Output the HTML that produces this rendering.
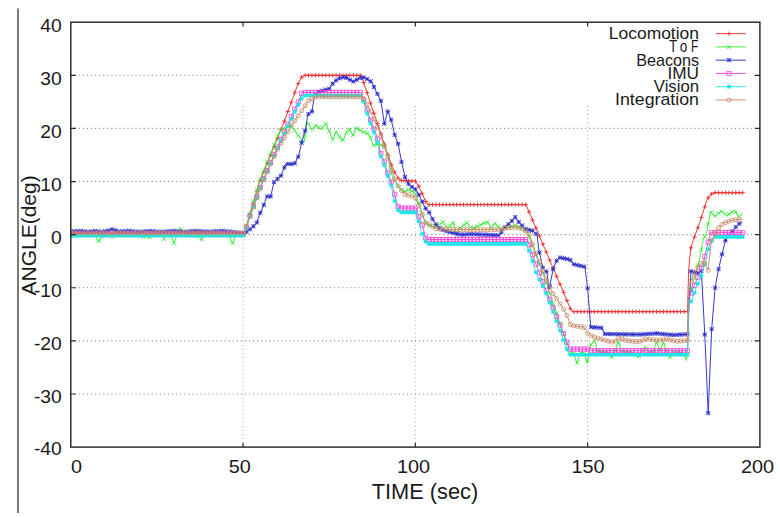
<!DOCTYPE html>
<html><head><meta charset="utf-8"><title>chart</title>
<style>
html,body{margin:0;padding:0;background:#fff;}
body{width:780px;height:517px;overflow:hidden;position:relative;font-family:"Liberation Sans",sans-serif;}
svg{position:absolute;left:0;top:0;display:block;}
text{font-family:"Liberation Sans",sans-serif;fill:#1a1a1a;}
</style></head><body>
<svg width="780" height="517" viewBox="0 0 780 517">
<rect x="0" y="0" width="780" height="517" fill="#ffffff"/>
<line x1="18.0" y1="8.6" x2="18.0" y2="513" stroke="#222" stroke-width="1.2"/>
<path d="M243.07 443.1V106.0M415.35 443.1V106.0M587.62 443.1V106.0" fill="none" stroke="#a4a4a4" stroke-width="1" stroke-dasharray="1 3.05"/>
<path d="M74.8 75.31H238.5M74.8 128.42H759.9M74.8 181.54H759.9M74.8 234.65H759.9M74.8 287.76H759.9M74.8 340.88H759.9M74.8 393.99H759.9" fill="none" stroke="#8c8c8c" stroke-width="1.1" stroke-dasharray="1.1 2.95"/>
<defs><clipPath id="cp"><rect x="70.8" y="22.2" width="689.1" height="424.9"/></clipPath><filter id="bl" x="-2%" y="-2%" width="104%" height="104%"><feGaussianBlur stdDeviation="0.45"/></filter></defs>
<g clip-path="url(#cp)"><g filter="url(#bl)">
<path d="M70.80 233.06L244.45 233.06L249.28 216.59L259.61 181.80L272.36 150.73L284.42 120.99L297.86 84.34L301.30 77.44L304.40 75.31L361.26 75.31L392.27 167.73L398.12 178.35L401.57 180.48L415.69 181.27L419.14 186.85L426.03 202.25L428.79 204.64L525.95 204.64L563.85 293.07L570.74 309.54L572.46 311.66L687.54 311.66L688.58 271.30L690.65 248.99L693.40 239.70L697.54 228.81L707.53 198.53L711.32 194.02L714.42 192.69L742.67 192.69" fill="none" stroke="#f03232" stroke-width="0.95" stroke-linejoin="round"/>
<path d="M68.70 233.06H72.90M70.8 230.96V235.16M72.15 233.06H76.35M74.25 230.96V235.16M75.59 233.06H79.79M77.69 230.96V235.16M79.04 233.06H83.24M81.14 230.96V235.16M82.48 233.06H86.68M84.58 230.96V235.16M85.93 233.06H90.13M88.03 230.96V235.16M89.37 233.06H93.57M91.47 230.96V235.16M92.82 233.06H97.02M94.92 230.96V235.16M96.26 233.06H100.46M98.36 230.96V235.16M99.71 233.06H103.91M101.81 230.96V235.16M103.16 233.06H107.36M105.26 230.96V235.16M106.60 233.06H110.80M108.7 230.96V235.16M110.05 233.06H114.25M112.15 230.96V235.16M113.49 233.06H117.69M115.59 230.96V235.16M116.94 233.06H121.14M119.04 230.96V235.16M120.38 233.06H124.58M122.48 230.96V235.16M123.83 233.06H128.03M125.93 230.96V235.16M127.27 233.06H131.47M129.37 230.96V235.16M130.72 233.06H134.92M132.82 230.96V235.16M134.16 233.06H138.36M136.26 230.96V235.16M137.61 233.06H141.81M139.71 230.96V235.16M141.06 233.06H145.26M143.16 230.96V235.16M144.50 233.06H148.70M146.6 230.96V235.16M147.95 233.06H152.15M150.05 230.96V235.16M151.39 233.06H155.59M153.49 230.96V235.16M154.84 233.06H159.04M156.94 230.96V235.16M158.28 233.06H162.48M160.38 230.96V235.16M161.73 233.06H165.93M163.83 230.96V235.16M165.17 233.06H169.37M167.27 230.96V235.16M168.62 233.06H172.82M170.72 230.96V235.16M172.06 233.06H176.26M174.16 230.96V235.16M175.51 233.06H179.71M177.61 230.96V235.16M178.96 233.06H183.16M181.06 230.96V235.16M182.40 233.06H186.60M184.5 230.96V235.16M185.85 233.06H190.05M187.95 230.96V235.16M189.29 233.06H193.49M191.39 230.96V235.16M192.74 233.06H196.94M194.84 230.96V235.16M196.18 233.06H200.38M198.28 230.96V235.16M199.63 233.06H203.83M201.73 230.96V235.16M203.07 233.06H207.27M205.17 230.96V235.16M206.52 233.06H210.72M208.62 230.96V235.16M209.97 233.06H214.17M212.07 230.96V235.16M213.41 233.06H217.61M215.51 230.96V235.16M216.86 233.06H221.06M218.96 230.96V235.16M220.30 233.06H224.50M222.4 230.96V235.16M223.75 233.06H227.95M225.85 230.96V235.16M227.19 233.06H231.39M229.29 230.96V235.16M230.64 233.06H234.84M232.74 230.96V235.16M234.08 233.06H238.28M236.18 230.96V235.16M237.53 233.06H241.73M239.63 230.96V235.16M240.98 233.06H245.18M243.08 230.96V235.16M244.42 226.0H248.62M246.52 223.90V228.10M247.87 214.27H252.07M249.97 212.17V216.37M251.31 202.68H255.51M253.41 200.58V204.78M254.76 191.08H258.96M256.86 188.98V193.18M258.20 180.12H262.40M260.3 178.02V182.22M261.65 171.73H265.85M263.75 169.63V173.83M265.09 163.33H269.29M267.19 161.23V165.43M268.54 154.93H272.74M270.64 152.83V157.03M271.98 146.48H276.18M274.08 144.38V148.58M275.43 137.99H279.63M277.53 135.89V140.09M278.88 129.49H283.08M280.98 127.39V131.59M282.32 120.99H286.52M284.42 118.89V123.09M285.77 111.59H289.97M287.87 109.49V113.69M289.21 102.2H293.41M291.31 100.10V104.30M292.66 92.8H296.86M294.76 90.70V94.90M296.10 83.65H300.30M298.2 81.55V85.75M299.55 77.2H303.75M301.65 75.10V79.30M302.99 75.31H307.19M305.09 73.21V77.41M306.44 75.31H310.64M308.54 73.21V77.41M309.88 75.31H314.08M311.98 73.21V77.41M313.33 75.31H317.53M315.43 73.21V77.41M316.78 75.31H320.98M318.88 73.21V77.41M320.22 75.31H324.42M322.32 73.21V77.41M323.67 75.31H327.87M325.77 73.21V77.41M327.11 75.31H331.31M329.21 73.21V77.41M330.56 75.31H334.76M332.66 73.21V77.41M334.00 75.31H338.20M336.1 73.21V77.41M337.45 75.31H341.65M339.55 73.21V77.41M340.89 75.31H345.09M342.99 73.21V77.41M344.34 75.31H348.54M346.44 73.21V77.41M347.79 75.31H351.99M349.89 73.21V77.41M351.23 75.31H355.43M353.33 73.21V77.41M354.68 75.31H358.88M356.78 73.21V77.41M358.12 75.31H362.32M360.22 73.21V77.41M361.57 82.5H365.77M363.67 80.40V84.60M365.01 92.77H369.21M367.11 90.67V94.87M368.46 103.04H372.66M370.56 100.94V105.14M371.90 113.31H376.10M374.0 111.21V115.41M375.35 123.57H379.55M377.45 121.47V125.67M378.80 133.84H383.00M380.9 131.74V135.94M382.24 144.11H386.44M384.34 142.01V146.21M385.69 154.38H389.89M387.79 152.28V156.48M389.13 164.65H393.33M391.23 162.55V166.75M392.58 172.1H396.78M394.68 170.00V174.20M396.02 178.35H400.22M398.12 176.25V180.45M399.47 180.48H403.67M401.57 178.38V182.58M402.91 180.67H407.11M405.01 178.57V182.77M406.36 180.86H410.56M408.46 178.76V182.96M409.80 181.06H414.00M411.9 178.96V183.16M413.25 181.25H417.45M415.35 179.15V183.35M416.70 186.29H420.90M418.8 184.19V188.39M420.14 193.78H424.34M422.24 191.68V195.88M423.59 201.48H427.79M425.69 199.38V203.58M427.03 204.64H431.23M429.13 202.54V206.74M430.48 204.64H434.68M432.58 202.54V206.74M433.92 204.64H438.12M436.02 202.54V206.74M437.37 204.64H441.57M439.47 202.54V206.74M440.81 204.64H445.01M442.91 202.54V206.74M444.26 204.64H448.46M446.36 202.54V206.74M447.70 204.64H451.90M449.8 202.54V206.74M451.15 204.64H455.35M453.25 202.54V206.74M454.60 204.64H458.80M456.7 202.54V206.74M458.04 204.64H462.24M460.14 202.54V206.74M461.49 204.64H465.69M463.59 202.54V206.74M464.93 204.64H469.13M467.03 202.54V206.74M468.38 204.64H472.58M470.48 202.54V206.74M471.82 204.64H476.02M473.92 202.54V206.74M475.27 204.64H479.47M477.37 202.54V206.74M478.71 204.64H482.91M480.81 202.54V206.74M482.16 204.64H486.36M484.26 202.54V206.74M485.61 204.64H489.81M487.71 202.54V206.74M489.05 204.64H493.25M491.15 202.54V206.74M492.50 204.64H496.70M494.6 202.54V206.74M495.94 204.64H500.14M498.04 202.54V206.74M499.39 204.64H503.59M501.49 202.54V206.74M502.83 204.64H507.03M504.93 202.54V206.74M506.28 204.64H510.48M508.38 202.54V206.74M509.72 204.64H513.92M511.82 202.54V206.74M513.17 204.64H517.37M515.27 202.54V206.74M516.62 204.64H520.82M518.72 202.54V206.74M520.06 204.64H524.26M522.16 202.54V206.74M523.51 204.64H527.71M525.61 202.54V206.74M526.95 211.88H531.15M529.05 209.78V213.98M530.40 219.92H534.60M532.5 217.82V222.02M533.84 227.96H538.04M535.94 225.86V230.06M537.29 235.99H541.49M539.39 233.89V238.09M540.73 244.03H544.93M542.83 241.93V246.13M544.18 252.07H548.38M546.28 249.97V254.17M547.62 260.11H551.82M549.72 258.01V262.21M551.07 268.15H555.27M553.17 266.05V270.25M554.52 276.19H558.72M556.62 274.09V278.29M557.96 284.23H562.16M560.06 282.13V286.33M561.41 292.27H565.61M563.51 290.17V294.37M564.85 300.48H569.05M566.95 298.38V302.58M568.30 308.72H572.50M570.4 306.62V310.82M571.74 311.66H575.94M573.84 309.56V313.76M575.19 311.66H579.39M577.29 309.56V313.76M578.63 311.66H582.83M580.73 309.56V313.76M582.08 311.66H586.28M584.18 309.56V313.76M585.52 311.66H589.72M587.62 309.56V313.76M588.97 311.66H593.17M591.07 309.56V313.76M592.42 311.66H596.62M594.52 309.56V313.76M595.86 311.66H600.06M597.96 309.56V313.76M599.31 311.66H603.51M601.41 309.56V313.76M602.75 311.66H606.95M604.85 309.56V313.76M606.20 311.66H610.40M608.3 309.56V313.76M609.64 311.66H613.84M611.74 309.56V313.76M613.09 311.66H617.29M615.19 309.56V313.76M616.53 311.66H620.73M618.63 309.56V313.76M619.98 311.66H624.18M622.08 309.56V313.76M623.43 311.66H627.63M625.53 309.56V313.76M626.87 311.66H631.07M628.97 309.56V313.76M630.32 311.66H634.52M632.42 309.56V313.76M633.76 311.66H637.96M635.86 309.56V313.76M637.21 311.66H641.41M639.31 309.56V313.76M640.65 311.66H644.85M642.75 309.56V313.76M644.10 311.66H648.30M646.2 309.56V313.76M647.54 311.66H651.74M649.64 309.56V313.76M650.99 311.66H655.19M653.09 309.56V313.76M654.44 311.66H658.64M656.54 309.56V313.76M657.88 311.66H662.08M659.98 309.56V313.76M661.33 311.66H665.53M663.43 309.56V313.76M664.77 311.66H668.97M666.87 309.56V313.76M668.22 311.66H672.42M670.32 309.56V313.76M671.66 311.66H675.86M673.76 309.56V313.76M675.11 311.66H679.31M677.21 309.56V313.76M678.55 311.66H682.75M680.65 309.56V313.76M682.00 311.66H686.20M684.1 309.56V313.76M685.44 311.66H689.64M687.54 309.56V313.76M688.89 247.83H693.09M690.99 245.73V249.93M692.34 236.97H696.54M694.44 234.87V239.07M695.78 227.76H699.98M697.88 225.66V229.86M699.23 217.32H703.43M701.33 215.22V219.42M702.67 206.88H706.87M704.77 204.78V208.98M706.12 197.71H710.32M708.22 195.61V199.81M709.56 193.87H713.76M711.66 191.77V195.97M713.01 192.69H717.21M715.11 190.59V194.79M716.45 192.69H720.65M718.55 190.59V194.79M719.90 192.69H724.10M722.0 190.59V194.79M723.34 192.69H727.54M725.44 190.59V194.79M726.79 192.69H730.99M728.89 190.59V194.79M730.24 192.69H734.44M732.34 190.59V194.79M733.68 192.69H737.88M735.78 190.59V194.79M737.13 192.69H741.33M739.23 190.59V194.79M740.57 192.69H744.77M742.67 190.59V194.79" fill="none" stroke="#f03232" stroke-width="1.0"/>
<path d="M70.80 234.65L77.69 235.71L84.58 234.12L91.47 235.18L95.61 235.71L99.05 242.09L102.50 235.18L109.39 234.65L112.84 237.31L116.28 234.12L125.93 235.18L136.26 234.65L141.09 235.18L144.53 237.84L146.60 235.71L149.01 238.37L152.46 234.65L160.38 235.18L163.83 238.90L167.27 235.18L170.72 235.71L174.16 243.15L177.27 234.12L180.37 228.01L183.81 234.12L191.39 235.18L197.94 235.18L201.38 239.96L204.83 234.65L215.51 235.18L228.95 234.65L232.39 244.00L235.84 234.65L244.45 234.65L249.28 215.53L259.61 180.48L272.36 149.14L278.56 133.74L282.01 128.96L286.14 127.36L291.66 126.30L299.24 136.92L304.06 142.23L307.16 122.05L311.99 129.49L316.46 124.71L320.60 129.49L326.11 123.64L332.66 139.58L336.45 131.61L342.31 141.17L348.85 127.89L352.99 135.86L355.74 127.89L362.63 131.61L369.18 134.27L373.31 145.42L378.83 143.83L384.00 146.48L386.06 149.67L392.27 176.23L398.12 185.79L403.64 192.16L408.46 189.50L414.66 192.16L419.14 204.38L425.34 222.97L430.85 226.15L436.02 227.21L442.91 221.90L447.74 228.28L452.91 221.90L456.70 235.39L459.80 228.28L466.69 222.43L471.51 228.81L476.68 226.68L481.16 224.56L487.36 221.90L491.15 227.75L495.29 222.97L499.76 229.34L508.38 227.21L515.27 225.62L522.16 228.28L525.95 230.40L529.05 236.77L533.53 248.46L538.35 261.21L545.25 279.80L551.45 298.39L569.71 351.50L573.50 352.56L576.94 363.71L580.39 352.56L583.83 352.56L587.28 363.18L589.00 351.50L591.07 344.59L594.52 340.34L597.96 351.50L607.95 352.56L611.40 357.87L614.84 351.50L618.29 341.94L621.74 351.50L634.83 352.56L638.27 357.87L641.72 352.03L645.16 346.72L648.61 352.03L653.09 351.50L656.53 341.94L659.98 350.44L663.43 342.47L666.87 351.50L669.97 357.87L673.42 352.03L683.07 352.56L686.51 360.53L687.54 354.15L688.58 298.39L692.71 284.04L699.60 259.08L703.05 240.49L706.84 231.99L710.63 211.01L714.42 216.59L721.31 211.01L726.82 215.53L734.75 210.22L738.54 217.12L742.33 213.94" fill="none" stroke="#34ee34" stroke-width="0.95" stroke-linejoin="round"/>
<path d="M68.70 232.55L72.90 236.75M68.70 236.75L72.90 232.55M72.15 233.08L76.35 237.28M72.15 237.28L76.35 233.08M75.59 233.61L79.79 237.81M75.59 237.81L79.79 233.61M79.04 232.82L83.24 237.02M79.04 237.02L83.24 232.82M82.48 232.02L86.68 236.22M82.48 236.22L86.68 232.02M85.93 232.55L90.13 236.75M85.93 236.75L90.13 232.55M89.37 233.08L93.57 237.28M89.37 237.28L93.57 233.08M92.82 233.52L97.02 237.72M92.82 237.72L97.02 233.52M96.26 238.71L100.46 242.91M96.26 242.91L100.46 238.71M99.71 234.46L103.91 238.66M99.71 238.66L103.91 234.46M103.16 232.87L107.36 237.07M103.16 237.07L107.36 232.87M106.60 232.60L110.80 236.80M106.60 236.80L110.80 232.60M110.05 234.67L114.25 238.87M110.05 238.87L114.25 234.67M113.49 232.66L117.69 236.86M113.49 236.86L117.69 232.66M116.94 232.32L121.14 236.52M116.94 236.52L121.14 232.32M120.38 232.70L124.58 236.90M120.38 236.90L124.58 232.70M123.83 233.08L128.03 237.28M123.83 237.28L128.03 233.08M127.27 232.90L131.47 237.10M127.27 237.10L131.47 232.90M130.72 232.73L134.92 236.93M130.72 236.93L134.92 232.73M134.16 232.55L138.36 236.75M134.16 236.75L138.36 232.55M137.61 232.93L141.81 237.13M137.61 237.13L141.81 232.93M141.06 234.67L145.26 238.87M141.06 238.87L145.26 234.67M144.50 233.61L148.70 237.81M144.50 237.81L148.70 233.61M147.95 235.15L152.15 239.35M147.95 239.35L152.15 235.15M151.39 232.62L155.59 236.82M151.39 236.82L155.59 232.62M154.84 232.85L159.04 237.05M154.84 237.05L159.04 232.85M158.28 233.08L162.48 237.28M158.28 237.28L162.48 233.08M161.73 236.80L165.93 241.00M161.73 241.00L165.93 236.80M165.17 233.08L169.37 237.28M165.17 237.28L169.37 233.08M168.62 233.61L172.82 237.81M168.62 237.81L172.82 233.61M172.06 241.05L176.26 245.25M172.06 245.25L176.26 241.05M175.51 231.34L179.71 235.54M175.51 235.54L179.71 231.34M178.96 227.13L183.16 231.33M178.96 231.33L183.16 227.13M182.40 232.12L186.60 236.32M182.40 236.32L186.60 232.12M185.85 232.60L190.05 236.80M185.85 236.80L190.05 232.60M189.29 233.08L193.49 237.28M189.29 237.28L193.49 233.08M192.74 233.08L196.94 237.28M192.74 237.28L196.94 233.08M196.18 233.56L200.38 237.76M196.18 237.76L200.38 233.56M199.63 237.33L203.83 241.53M199.63 241.53L203.83 237.33M203.07 232.57L207.27 236.77M203.07 236.77L207.27 232.57M206.52 232.74L210.72 236.94M206.52 236.94L210.72 232.74M209.97 232.91L214.17 237.11M209.97 237.11L214.17 232.91M213.41 233.08L217.61 237.28M213.41 237.28L217.61 233.08M216.86 232.94L221.06 237.14M216.86 237.14L221.06 232.94M220.30 232.81L224.50 237.01M220.30 237.01L224.50 232.81M223.75 232.67L227.95 236.87M223.75 236.87L227.95 232.67M227.19 233.48L231.39 237.68M227.19 237.68L231.39 233.48M230.64 240.96L234.84 245.16M230.64 245.16L234.84 240.96M234.08 232.55L238.28 236.75M234.08 236.75L238.28 232.55M237.53 232.55L241.73 236.75M237.53 236.75L241.73 232.55M240.98 232.55L245.18 236.75M240.98 236.75L245.18 232.55M244.42 224.36L248.62 228.56M244.42 228.56L248.62 224.36M247.87 211.09L252.07 215.29M247.87 215.29L252.07 211.09M251.31 199.41L255.51 203.61M251.31 203.61L255.51 199.41M254.76 187.72L258.96 191.92M254.76 191.92L258.96 187.72M258.20 176.68L262.40 180.88M258.20 180.88L262.40 176.68M261.65 168.21L265.85 172.41M261.65 172.41L265.85 168.21M265.09 159.74L269.29 163.94M265.09 163.94L269.29 159.74M268.54 151.27L272.74 155.47M268.54 155.47L272.74 151.27M271.98 142.76L276.18 146.96M271.98 146.96L276.18 142.76M275.43 134.20L279.63 138.40M275.43 138.40L279.63 134.20M278.88 128.29L283.08 132.49M278.88 132.49L283.08 128.29M282.32 125.93L286.52 130.13M282.32 130.13L286.52 125.93M285.77 124.93L289.97 129.13M285.77 129.13L289.97 124.93M289.21 124.27L293.41 128.47M289.21 128.47L293.41 124.27M292.66 128.55L296.86 132.75M292.66 132.75L296.86 128.55M296.10 133.37L300.30 137.57M296.10 137.57L300.30 133.37M299.55 137.48L303.75 141.68M299.55 141.68L303.75 137.48M302.99 133.41L307.19 137.61M302.99 137.61L307.19 133.41M306.44 122.08L310.64 126.28M306.44 126.28L310.64 122.08M309.88 127.39L314.08 131.59M309.88 131.59L314.08 127.39M313.33 123.71L317.53 127.91M313.33 127.91L317.53 123.71M316.78 125.40L320.98 129.60M316.78 129.60L320.98 125.40M320.22 125.56L324.42 129.76M320.22 129.76L324.42 125.56M323.67 121.91L327.87 126.11M323.67 126.11L327.87 121.91M327.11 129.09L331.31 133.29M327.11 133.29L331.31 129.09M330.56 137.48L334.76 141.68M330.56 141.68L334.76 137.48M334.00 130.24L338.20 134.44M334.00 134.44L338.20 130.24M337.45 134.57L341.65 138.77M337.45 138.77L341.65 134.57M340.89 137.67L345.09 141.87M340.89 141.87L345.09 137.67M344.34 130.69L348.54 134.89M344.34 134.89L348.54 130.69M347.79 127.79L351.99 131.99M347.79 131.99L351.99 127.79M351.23 132.76L355.43 136.96M351.23 136.96L355.43 132.76M354.68 126.35L358.88 130.55M354.68 130.55L358.88 126.35M358.12 128.21L362.32 132.41M358.12 132.41L362.32 128.21M361.57 129.93L365.77 134.13M361.57 134.13L365.77 129.93M365.01 131.33L369.21 135.53M365.01 135.53L369.21 131.33M368.46 135.89L372.66 140.09M368.46 140.09L372.66 135.89M371.90 143.12L376.10 147.32M371.90 147.32L376.10 143.12M375.35 142.13L379.55 146.33M375.35 146.33L379.55 142.13M378.80 142.79L383.00 146.99M378.80 146.99L383.00 142.79M382.24 144.91L386.44 149.11M382.24 149.11L386.44 144.91M385.69 154.95L389.89 159.15M385.69 159.15L389.89 154.95M389.13 169.70L393.33 173.90M389.13 173.90L393.33 169.70M392.58 178.06L396.78 182.26M392.58 182.26L396.78 178.06M396.02 183.69L400.22 187.89M396.02 187.89L400.22 183.69M399.47 187.67L403.67 191.87M399.47 191.87L403.67 187.67M402.91 189.30L407.11 193.50M402.91 193.50L407.11 189.30M406.36 187.40L410.56 191.60M406.36 191.60L410.56 187.40M409.80 188.88L414.00 193.08M409.80 193.08L414.00 188.88M413.25 191.94L417.45 196.14M413.25 196.14L417.45 191.94M416.70 201.34L420.90 205.54M416.70 205.54L420.90 201.34M420.14 211.57L424.34 215.77M420.14 215.77L424.34 211.57M423.59 221.06L427.79 225.26M423.59 225.26L427.79 221.06M427.03 223.06L431.23 227.26M427.03 227.26L431.23 223.06M430.48 224.41L434.68 228.61M430.48 228.61L434.68 224.41M433.92 225.11L438.12 229.31M433.92 229.31L438.12 225.11M437.37 222.46L441.57 226.66M437.37 226.66L441.57 222.46M440.81 219.80L445.01 224.00M440.81 224.00L445.01 219.80M444.26 224.36L448.46 228.56M444.26 228.56L448.46 224.36M447.70 223.63L451.90 227.83M447.70 227.83L451.90 223.63M451.15 221.03L455.35 225.23M451.15 225.23L455.35 221.03M454.60 233.29L458.80 237.49M454.60 237.49L458.80 233.29M458.04 225.88L462.24 230.08M458.04 230.08L462.24 225.88M461.49 222.96L465.69 227.16M461.49 227.16L465.69 222.96M464.93 220.79L469.13 224.99M464.93 224.99L469.13 220.79M468.38 225.34L472.58 229.54M468.38 229.54L472.58 225.34M471.82 225.72L476.02 229.92M471.82 229.92L476.02 225.72M475.27 224.26L479.47 228.46M475.27 228.46L479.47 224.26M478.71 222.62L482.91 226.82M478.71 226.82L482.91 222.62M482.16 221.13L486.36 225.33M482.16 225.33L486.36 221.13M485.61 220.33L489.81 224.53M485.61 224.53L489.81 220.33M489.05 225.65L493.25 229.85M489.05 229.85L493.25 225.65M492.50 221.66L496.70 225.86M492.50 225.86L496.70 221.66M495.94 224.79L500.14 228.99M495.94 228.99L500.14 224.79M499.39 226.81L503.59 231.01M499.39 231.01L503.59 226.81M502.83 225.96L507.03 230.16M502.83 230.16L507.03 225.96M506.28 225.11L510.48 229.31M506.28 229.31L510.48 225.11M509.72 224.32L513.92 228.52M509.72 228.52L513.92 224.32M513.17 223.52L517.37 227.72M513.17 227.72L517.37 223.52M516.62 224.85L520.82 229.05M516.62 229.05L520.82 224.85M520.06 226.18L524.26 230.38M520.06 230.38L524.26 226.18M523.51 228.11L527.71 232.31M523.51 232.31L527.71 228.11M526.95 234.67L531.15 238.87M526.95 238.87L531.15 234.67M530.40 243.66L534.60 247.86M530.40 247.86L534.60 243.66M533.84 252.73L538.04 256.93M533.84 256.93L538.04 252.73M537.29 261.89L541.49 266.09M537.29 266.09L541.49 261.89M540.73 271.19L544.93 275.39M540.73 275.39L544.93 271.19M544.18 280.79L548.38 284.99M544.18 284.99L548.38 280.79M547.62 291.12L551.82 295.32M547.62 295.32L551.82 291.12M551.07 301.30L555.27 305.50M551.07 305.50L555.27 301.30M554.52 311.32L558.72 315.52M554.52 315.52L558.72 311.32M557.96 321.34L562.16 325.54M557.96 325.54L562.16 321.34M561.41 331.36L565.61 335.56M561.41 335.56L565.61 331.36M564.85 341.38L569.05 345.58M564.85 345.58L569.05 341.38M568.30 349.59L572.50 353.79M568.30 353.79L572.50 349.59M571.74 351.58L575.94 355.78M571.74 355.78L575.94 351.58M575.19 360.50L579.39 364.70M575.19 364.70L579.39 360.50M578.63 350.46L582.83 354.66M578.63 354.66L582.83 350.46M582.08 351.52L586.28 355.72M582.08 355.72L586.28 351.52M585.52 358.75L589.72 362.95M585.52 362.95L589.72 358.75M588.97 342.49L593.17 346.69M588.97 346.69L593.17 342.49M592.42 338.24L596.62 342.44M592.42 342.44L596.62 338.24M595.86 349.40L600.06 353.60M595.86 353.60L600.06 349.40M599.31 349.76L603.51 353.96M599.31 353.96L603.51 349.76M602.75 350.13L606.95 354.33M602.75 354.33L606.95 350.13M606.20 350.99L610.40 355.19M606.20 355.19L610.40 350.99M609.64 355.13L613.84 359.33M609.64 359.33L613.84 355.13M613.09 348.44L617.29 352.64M613.09 352.64L617.29 348.44M616.53 340.79L620.73 344.99M616.53 344.99L620.73 340.79M619.98 349.43L624.18 353.63M619.98 353.63L624.18 349.43M623.43 349.70L627.63 353.90M623.43 353.90L627.63 349.70M626.87 349.98L631.07 354.18M626.87 354.18L631.07 349.98M630.32 350.26L634.52 354.46M630.32 354.46L634.52 350.26M633.76 352.05L637.96 356.25M633.76 356.25L637.96 352.05M637.21 354.02L641.41 358.22M637.21 358.22L641.41 354.02M640.65 348.34L644.85 352.54M640.65 352.54L644.85 348.34M644.10 346.21L648.30 350.41M644.10 350.41L648.30 346.21M647.54 349.81L651.74 354.01M647.54 354.01L651.74 349.81M650.99 349.40L655.19 353.60M650.99 353.60L655.19 349.40M654.44 339.84L658.64 344.04M654.44 344.04L658.64 339.84M657.88 348.34L662.08 352.54M657.88 352.54L662.08 348.34M661.33 340.37L665.53 344.57M661.33 344.57L665.53 340.37M664.77 349.40L668.97 353.60M664.77 353.60L668.97 349.40M668.22 355.19L672.42 359.39M668.22 359.39L672.42 355.19M671.66 349.95L675.86 354.15M671.66 354.15L675.86 349.95M675.11 350.14L679.31 354.34M675.11 354.34L679.31 350.14M678.55 350.33L682.75 354.53M678.55 354.53L682.75 350.33M682.00 352.85L686.20 357.05M682.00 357.05L686.20 352.85M685.44 352.05L689.64 356.25M685.44 356.25L689.64 352.05M688.89 287.92L693.09 292.12M688.89 292.12L693.09 287.92M692.34 275.70L696.54 279.90M692.34 279.90L696.54 275.70M695.78 263.22L699.98 267.42M695.78 267.42L699.98 263.22M699.23 247.69L703.43 251.89M699.23 251.89L703.43 247.69M702.67 234.53L706.87 238.73M702.67 238.73L706.87 234.53M706.12 222.27L710.32 226.47M706.12 226.47L710.32 222.27M709.56 210.44L713.76 214.64M709.56 214.64L713.76 210.44M713.01 213.93L717.21 218.13M713.01 218.13L717.21 213.93M716.45 211.15L720.65 215.35M716.45 215.35L720.65 211.15M719.90 209.48L724.10 213.68M719.90 213.68L724.10 209.48M723.34 212.30L727.54 216.50M723.34 216.50L727.54 212.30M726.79 212.04L730.99 216.24M726.79 216.24L730.99 212.04M730.24 209.73L734.44 213.93M730.24 213.93L734.44 209.73M733.68 210.00L737.88 214.20M733.68 214.20L737.88 210.00M737.13 214.44L741.33 218.64M737.13 218.64L741.33 214.44" fill="none" stroke="#34ee34" stroke-width="0.8"/>
<path d="M70.80 231.46L81.14 230.93L88.03 231.99L94.92 230.93L101.81 231.99L108.70 230.40L112.15 229.34L119.04 231.46L129.37 230.93L139.71 231.99L150.05 230.93L160.38 231.99L174.16 230.93L184.50 231.99L194.84 230.93L208.62 231.73L222.40 230.93L232.74 231.99L244.45 233.59L249.97 229.34L256.51 223.50L259.96 213.41L263.40 205.97L266.85 196.41L270.64 196.41L274.08 182.07L280.98 175.70L285.80 164.01L294.41 164.01L298.55 156.04L301.99 141.17L305.44 129.49L307.85 114.62L311.99 111.43L314.40 96.03L318.53 91.78L329.56 88.59L331.97 84.34L338.17 78.50L345.06 76.91L352.99 81.69L361.26 77.44L364.70 77.44L371.94 82.22L374.69 88.59L380.90 100.81L384.34 123.64L387.79 111.43L391.23 119.93L394.68 134.80L398.12 143.83L401.57 161.89L405.01 177.02L408.46 183.93L411.90 186.85L415.69 189.50L419.14 195.35L425.34 208.09L428.79 211.81L432.92 219.78L436.37 225.09L440.16 228.81L447.05 231.46L450.49 232.31L461.18 234.65L470.48 234.12L484.26 234.65L499.76 235.39L503.55 228.49L510.45 222.43L515.27 217.12L519.06 222.43L525.61 229.07L532.50 230.67L536.98 234.65L539.04 251.11L542.83 267.58L546.97 272.36L549.04 289.36L553.17 269.17L556.27 261.21L559.37 257.49L570.05 259.61L573.84 264.39L584.87 266.78L587.62 288.29L590.73 327.07L601.75 327.92L604.85 333.97L639.31 334.50L656.53 333.44L673.76 335.03L687.54 334.24L690.99 271.30L697.88 272.89L701.33 270.77L704.77 334.50L708.22 413.11L711.66 329.19L715.11 287.76L718.55 269.17L722.00 254.30L725.44 240.49L734.75 228.28L738.54 224.03L742.33 222.43" fill="none" stroke="#2c2ccc" stroke-width="0.95" stroke-linejoin="round"/>
<path d="M68.70 231.46H72.90M70.8 229.36V233.56M68.70 229.36L72.90 233.56M68.70 233.56L72.90 229.36M72.15 231.29H76.35M74.25 229.19V233.39M72.15 229.19L76.35 233.39M72.15 233.39L76.35 229.19M75.59 231.11H79.79M77.69 229.01V233.21M75.59 229.01L79.79 233.21M75.59 233.21L79.79 229.01M79.04 230.93H83.24M81.14 228.83V233.03M79.04 228.83L83.24 233.03M79.04 233.03L83.24 228.83M82.48 231.46H86.68M84.58 229.36V233.56M82.48 229.36L86.68 233.56M82.48 233.56L86.68 229.36M85.93 231.99H90.13M88.03 229.89V234.09M85.93 229.89L90.13 234.09M85.93 234.09L90.13 229.89M89.37 231.46H93.57M91.47 229.36V233.56M89.37 229.36L93.57 233.56M89.37 233.56L93.57 229.36M92.82 230.93H97.02M94.92 228.83V233.03M92.82 228.83L97.02 233.03M92.82 233.03L97.02 228.83M96.26 231.46H100.46M98.36 229.36V233.56M96.26 229.36L100.46 233.56M96.26 233.56L100.46 229.36M99.71 231.99H103.91M101.81 229.89V234.09M99.71 229.89L103.91 234.09M99.71 234.09L103.91 229.89M103.16 231.2H107.36M105.26 229.10V233.30M103.16 229.10L107.36 233.30M103.16 233.30L107.36 229.10M106.60 230.4H110.80M108.7 228.30V232.50M106.60 228.30L110.80 232.50M106.60 232.50L110.80 228.30M110.05 229.34H114.25M112.15 227.24V231.44M110.05 227.24L114.25 231.44M110.05 231.44L114.25 227.24M113.49 230.4H117.69M115.59 228.30V232.50M113.49 228.30L117.69 232.50M113.49 232.50L117.69 228.30M116.94 231.46H121.14M119.04 229.36V233.56M116.94 229.36L121.14 233.56M116.94 233.56L121.14 229.36M120.38 231.29H124.58M122.48 229.19V233.39M120.38 229.19L124.58 233.39M120.38 233.39L124.58 229.19M123.83 231.11H128.03M125.93 229.01V233.21M123.83 229.01L128.03 233.21M123.83 233.21L128.03 229.01M127.27 230.93H131.47M129.37 228.83V233.03M127.27 228.83L131.47 233.03M127.27 233.03L131.47 228.83M130.72 231.29H134.92M132.82 229.19V233.39M130.72 229.19L134.92 233.39M130.72 233.39L134.92 229.19M134.16 231.64H138.36M136.26 229.54V233.74M134.16 229.54L138.36 233.74M134.16 233.74L138.36 229.54M137.61 231.99H141.81M139.71 229.89V234.09M137.61 229.89L141.81 234.09M137.61 234.09L141.81 229.89M141.06 231.64H145.26M143.16 229.54V233.74M141.06 229.54L145.26 233.74M141.06 233.74L145.26 229.54M144.50 231.29H148.70M146.6 229.19V233.39M144.50 229.19L148.70 233.39M144.50 233.39L148.70 229.19M147.95 230.93H152.15M150.05 228.83V233.03M147.95 228.83L152.15 233.03M147.95 233.03L152.15 228.83M151.39 231.29H155.59M153.49 229.19V233.39M151.39 229.19L155.59 233.39M151.39 233.39L155.59 229.19M154.84 231.64H159.04M156.94 229.54V233.74M154.84 229.54L159.04 233.74M154.84 233.74L159.04 229.54M158.28 231.99H162.48M160.38 229.89V234.09M158.28 229.89L162.48 234.09M158.28 234.09L162.48 229.89M161.73 231.73H165.93M163.83 229.63V233.83M161.73 229.63L165.93 233.83M161.73 233.83L165.93 229.63M165.17 231.46H169.37M167.27 229.36V233.56M165.17 229.36L169.37 233.56M165.17 233.56L169.37 229.36M168.62 231.2H172.82M170.72 229.10V233.30M168.62 229.10L172.82 233.30M168.62 233.30L172.82 229.10M172.06 230.93H176.26M174.16 228.83V233.03M172.06 228.83L176.26 233.03M172.06 233.03L176.26 228.83M175.51 231.29H179.71M177.61 229.19V233.39M175.51 229.19L179.71 233.39M175.51 233.39L179.71 229.19M178.96 231.64H183.16M181.06 229.54V233.74M178.96 229.54L183.16 233.74M178.96 233.74L183.16 229.54M182.40 231.99H186.60M184.5 229.89V234.09M182.40 229.89L186.60 234.09M182.40 234.09L186.60 229.89M185.85 231.64H190.05M187.95 229.54V233.74M185.85 229.54L190.05 233.74M185.85 233.74L190.05 229.54M189.29 231.29H193.49M191.39 229.19V233.39M189.29 229.19L193.49 233.39M189.29 233.39L193.49 229.19M192.74 230.93H196.94M194.84 228.83V233.03M192.74 228.83L196.94 233.03M192.74 233.03L196.94 228.83M196.18 231.13H200.38M198.28 229.03V233.23M196.18 229.03L200.38 233.23M196.18 233.23L200.38 229.03M199.63 231.33H203.83M201.73 229.23V233.43M199.63 229.23L203.83 233.43M199.63 233.43L203.83 229.23M203.07 231.53H207.27M205.17 229.43V233.63M203.07 229.43L207.27 233.63M203.07 233.63L207.27 229.43M206.52 231.73H210.72M208.62 229.63V233.83M206.52 229.63L210.72 233.83M206.52 233.83L210.72 229.63M209.97 231.53H214.17M212.07 229.43V233.63M209.97 229.43L214.17 233.63M209.97 233.63L214.17 229.43M213.41 231.33H217.61M215.51 229.23V233.43M213.41 229.23L217.61 233.43M213.41 233.43L217.61 229.23M216.86 231.13H221.06M218.96 229.03V233.23M216.86 229.03L221.06 233.23M216.86 233.23L221.06 229.03M220.30 230.93H224.50M222.4 228.83V233.03M220.30 228.83L224.50 233.03M220.30 233.03L224.50 228.83M223.75 231.29H227.95M225.85 229.19V233.39M223.75 229.19L227.95 233.39M223.75 233.39L227.95 229.19M227.19 231.64H231.39M229.29 229.54V233.74M227.19 229.54L231.39 233.74M227.19 233.74L231.39 229.54M230.64 231.99H234.84M232.74 229.89V234.09M230.64 229.89L234.84 234.09M230.64 234.09L234.84 229.89M234.08 232.46H238.28M236.18 230.36V234.56M234.08 230.36L238.28 234.56M234.08 234.56L238.28 230.36M237.53 232.93H241.73M239.63 230.83V235.03M237.53 230.83L241.73 235.03M237.53 235.03L241.73 230.83M240.98 233.4H245.18M243.08 231.30V235.50M240.98 231.30L245.18 235.50M240.98 235.50L245.18 231.30M244.42 231.99H248.62M246.52 229.89V234.09M244.42 229.89L248.62 234.09M244.42 234.09L248.62 229.89M247.87 229.34H252.07M249.97 227.24V231.44M247.87 227.24L252.07 231.44M247.87 231.44L252.07 227.24M251.31 226.26H255.51M253.41 224.16V228.36M251.31 224.16L255.51 228.36M251.31 228.36L255.51 224.16M254.76 222.49H258.96M256.86 220.39V224.59M254.76 220.39L258.96 224.59M254.76 224.59L258.96 220.39M258.20 212.66H262.40M260.3 210.56V214.76M258.20 210.56L262.40 214.76M258.20 214.76L262.40 210.56M261.65 205.01H265.85M263.75 202.91V207.11M261.65 202.91L265.85 207.11M261.65 207.11L265.85 202.91M265.09 196.41H269.29M267.19 194.31V198.51M265.09 194.31L269.29 198.51M265.09 198.51L269.29 194.31M268.54 196.41H272.74M270.64 194.31V198.51M268.54 194.31L272.74 198.51M268.54 198.51L272.74 194.31M271.98 182.07H276.18M274.08 179.97V184.17M271.98 179.97L276.18 184.17M271.98 184.17L276.18 179.97M275.43 178.88H279.63M277.53 176.78V180.98M275.43 176.78L279.63 180.98M275.43 180.98L279.63 176.78M278.88 175.7H283.08M280.98 173.60V177.80M278.88 173.60L283.08 177.80M278.88 177.80L283.08 173.60M282.32 167.35H286.52M284.42 165.25V169.45M282.32 165.25L286.52 169.45M282.32 169.45L286.52 165.25M285.77 164.01H289.97M287.87 161.91V166.11M285.77 161.91L289.97 166.11M285.77 166.11L289.97 161.91M289.21 164.01H293.41M291.31 161.91V166.11M289.21 161.91L293.41 166.11M289.21 166.11L293.41 161.91M292.66 163.35H296.86M294.76 161.25V165.45M292.66 161.25L296.86 165.45M292.66 165.45L296.86 161.25M296.10 156.71H300.30M298.2 154.61V158.81M296.10 154.61L300.30 158.81M296.10 158.81L300.30 154.61M299.55 142.66H303.75M301.65 140.56V144.76M299.55 140.56L303.75 144.76M299.55 144.76L303.75 140.56M302.99 130.66H307.19M305.09 128.56V132.76M302.99 128.56L307.19 132.76M302.99 132.76L307.19 128.56M306.44 114.08H310.64M308.54 111.98V116.18M306.44 111.98L310.64 116.18M306.44 116.18L310.64 111.98M309.88 111.43H314.08M311.98 109.33V113.53M309.88 109.33L314.08 113.53M309.88 113.53L314.08 109.33M313.33 94.96H317.53M315.43 92.86V97.06M313.33 92.86L317.53 97.06M313.33 97.06L317.53 92.86M316.78 91.68H320.98M318.88 89.58V93.78M316.78 89.58L320.98 93.78M316.78 93.78L320.98 89.58M320.22 90.68H324.42M322.32 88.58V92.78M320.22 88.58L324.42 92.78M320.22 92.78L324.42 88.58M323.67 89.69H327.87M325.77 87.59V91.79M323.67 87.59L327.87 91.79M323.67 91.79L327.87 87.59M327.11 88.69H331.31M329.21 86.59V90.79M327.11 86.59L331.31 90.79M327.11 90.79L331.31 86.59M330.56 83.69H334.76M332.66 81.59V85.79M330.56 81.59L334.76 85.79M330.56 85.79L334.76 81.59M334.00 80.45H338.20M336.1 78.35V82.55M334.00 78.35L338.20 82.55M334.00 82.55L338.20 78.35M337.45 78.18H341.65M339.55 76.08V80.28M337.45 76.08L341.65 80.28M337.45 80.28L341.65 76.08M340.89 77.38H345.09M342.99 75.28V79.48M340.89 75.28L345.09 79.48M340.89 79.48L345.09 75.28M344.34 77.74H348.54M346.44 75.64V79.84M344.34 75.64L348.54 79.84M344.34 79.84L348.54 75.64M347.79 79.82H351.99M349.89 77.72V81.92M347.79 77.72L351.99 81.92M347.79 81.92L351.99 77.72M351.23 81.51H355.43M353.33 79.41V83.61M351.23 79.41L355.43 83.61M351.23 83.61L355.43 79.41M354.68 79.74H358.88M356.78 77.64V81.84M354.68 77.64L358.88 81.84M354.68 81.84L358.88 77.64M358.12 77.97H362.32M360.22 75.87V80.07M358.12 75.87L362.32 80.07M358.12 80.07L362.32 75.87M361.57 77.44H365.77M363.67 75.34V79.54M361.57 75.34L365.77 79.54M361.57 79.54L365.77 75.34M365.01 79.03H369.21M367.11 76.93V81.13M365.01 76.93L369.21 81.13M365.01 81.13L369.21 76.93M368.46 81.31H372.66M370.56 79.21V83.41M368.46 79.21L372.66 83.41M368.46 83.41L372.66 79.21M371.90 87.0H376.10M374.0 84.90V89.10M371.90 84.90L376.10 89.10M371.90 89.10L376.10 84.90M375.35 94.02H379.55M377.45 91.92V96.12M375.35 91.92L379.55 96.12M375.35 96.12L379.55 91.92M378.80 100.81H383.00M380.9 98.71V102.91M378.80 98.71L383.00 102.91M378.80 102.91L383.00 98.71M382.24 123.64H386.44M384.34 121.54V125.74M382.24 121.54L386.44 125.74M382.24 125.74L386.44 121.54M385.69 111.43H389.89M387.79 109.33V113.53M385.69 109.33L389.89 113.53M385.69 113.53L389.89 109.33M389.13 119.93H393.33M391.23 117.83V122.03M389.13 117.83L393.33 122.03M389.13 122.03L393.33 117.83M392.58 134.8H396.78M394.68 132.70V136.90M392.58 132.70L396.78 136.90M392.58 136.90L396.78 132.70M396.02 143.83H400.22M398.12 141.73V145.93M396.02 141.73L400.22 145.93M396.02 145.93L400.22 141.73M399.47 161.89H403.67M401.57 159.79V163.99M399.47 159.79L403.67 163.99M399.47 163.99L403.67 159.79M402.91 177.02H407.11M405.01 174.92V179.12M402.91 174.92L407.11 179.12M402.91 179.12L407.11 174.92M406.36 183.93H410.56M408.46 181.83V186.03M406.36 181.83L410.56 186.03M406.36 186.03L410.56 181.83M409.80 186.85H414.00M411.9 184.75V188.95M409.80 184.75L414.00 188.95M409.80 188.95L414.00 184.75M413.25 189.26H417.45M415.35 187.16V191.36M413.25 187.16L417.45 191.36M413.25 191.36L417.45 187.16M416.70 194.76H420.90M418.8 192.66V196.86M416.70 192.66L420.90 196.86M416.70 196.86L420.90 192.66M420.14 201.72H424.34M422.24 199.62V203.82M420.14 199.62L424.34 203.82M420.14 203.82L424.34 199.62M423.59 208.47H427.79M425.69 206.37V210.57M423.59 206.37L427.79 210.57M423.59 210.57L427.79 206.37M427.03 212.48H431.23M429.13 210.38V214.58M427.03 210.38L431.23 214.58M427.03 214.58L431.23 210.38M430.48 219.11H434.68M432.58 217.01V221.21M430.48 217.01L434.68 221.21M430.48 221.21L434.68 217.01M433.92 224.56H438.12M436.02 222.46V226.66M433.92 222.46L438.12 226.66M433.92 226.66L438.12 222.46M437.37 228.13H441.57M439.47 226.03V230.23M437.37 226.03L441.57 230.23M437.37 230.23L441.57 226.03M440.81 229.87H445.01M442.91 227.77V231.97M440.81 227.77L445.01 231.97M440.81 231.97L445.01 227.77M444.26 231.2H448.46M446.36 229.10V233.30M444.26 229.10L448.46 233.30M444.26 233.30L448.46 229.10M447.70 232.14H451.90M449.8 230.04V234.24M447.70 230.04L451.90 234.24M447.70 234.24L451.90 230.04M451.15 232.92H455.35M453.25 230.82V235.02M451.15 230.82L455.35 235.02M451.15 235.02L455.35 230.82M454.60 233.67H458.80M456.7 231.57V235.77M454.60 231.57L458.80 235.77M454.60 235.77L458.80 231.57M458.04 234.42H462.24M460.14 232.32V236.52M458.04 232.32L462.24 236.52M458.04 236.52L462.24 232.32M461.49 234.51H465.69M463.59 232.41V236.61M461.49 232.41L465.69 236.61M461.49 236.61L465.69 232.41M464.93 234.32H469.13M467.03 232.22V236.42M464.93 232.22L469.13 236.42M464.93 236.42L469.13 232.22M468.38 234.12H472.58M470.48 232.02V236.22M468.38 232.02L472.58 236.22M468.38 236.22L472.58 232.02M471.82 234.25H476.02M473.92 232.15V236.35M471.82 232.15L476.02 236.35M471.82 236.35L476.02 232.15M475.27 234.38H479.47M477.37 232.28V236.48M475.27 232.28L479.47 236.48M475.27 236.48L479.47 232.28M478.71 234.52H482.91M480.81 232.42V236.62M478.71 232.42L482.91 236.62M478.71 236.62L482.91 232.42M482.16 234.65H486.36M484.26 232.55V236.75M482.16 232.55L486.36 236.75M482.16 236.75L486.36 232.55M485.61 234.82H489.81M487.71 232.72V236.92M485.61 232.72L489.81 236.92M485.61 236.92L489.81 232.72M489.05 234.98H493.25M491.15 232.88V237.08M489.05 232.88L493.25 237.08M489.05 237.08L493.25 232.88M492.50 235.15H496.70M494.6 233.05V237.25M492.50 233.05L496.70 237.25M492.50 237.25L496.70 233.05M495.94 235.31H500.14M498.04 233.21V237.41M495.94 233.21L500.14 237.41M495.94 237.41L500.14 233.21M499.39 232.26H503.59M501.49 230.16V234.36M499.39 230.16L503.59 234.36M499.39 234.36L503.59 230.16M502.83 227.28H507.03M504.93 225.18V229.38M502.83 225.18L507.03 229.38M502.83 229.38L507.03 225.18M506.28 224.25H510.48M508.38 222.15V226.35M506.28 222.15L510.48 226.35M506.28 226.35L510.48 222.15M509.72 220.92H513.92M511.82 218.82V223.02M509.72 218.82L513.92 223.02M509.72 223.02L513.92 218.82M513.17 217.12H517.37M515.27 215.02V219.22M513.17 215.02L517.37 219.22M513.17 219.22L517.37 215.02M516.62 221.95H520.82M518.72 219.85V224.05M516.62 219.85L520.82 224.05M516.62 224.05L520.82 219.85M520.06 225.58H524.26M522.16 223.48V227.68M520.06 223.48L524.26 227.68M520.06 227.68L524.26 223.48M523.51 229.07H527.71M525.61 226.97V231.17M523.51 226.97L527.71 231.17M523.51 231.17L527.71 226.97M526.95 229.87H531.15M529.05 227.77V231.97M526.95 227.77L531.15 231.97M526.95 231.97L531.15 227.77M530.40 230.67H534.60M532.5 228.57V232.77M530.40 228.57L534.60 232.77M530.40 232.77L534.60 228.57M533.84 233.73H538.04M535.94 231.63V235.83M533.84 231.63L538.04 235.83M533.84 235.83L538.04 231.63M537.29 252.61H541.49M539.39 250.51V254.71M537.29 250.51L541.49 254.71M537.29 254.71L541.49 250.51M540.73 267.58H544.93M542.83 265.48V269.68M540.73 265.48L544.93 269.68M540.73 269.68L544.93 265.48M544.18 271.56H548.38M546.28 269.46V273.66M544.18 269.46L548.38 273.66M544.18 273.66L548.38 269.46M547.62 285.99H551.82M549.72 283.89V288.09M547.62 283.89L551.82 288.09M547.62 288.09L551.82 283.89M551.07 269.17H555.27M553.17 267.07V271.27M551.07 267.07L555.27 271.27M551.07 271.27L555.27 267.07M554.52 260.79H558.72M556.62 258.69V262.89M554.52 258.69L558.72 262.89M554.52 262.89L558.72 258.69M557.96 257.63H562.16M560.06 255.53V259.73M557.96 255.53L562.16 259.73M557.96 259.73L562.16 255.53M561.41 258.31H565.61M563.51 256.21V260.41M561.41 256.21L565.61 260.41M561.41 260.41L565.61 256.21M564.85 259.0H569.05M566.95 256.90V261.10M564.85 256.90L569.05 261.10M564.85 261.10L569.05 256.90M568.30 260.05H572.50M570.4 257.95V262.15M568.30 257.95L572.50 262.15M568.30 262.15L572.50 257.95M571.74 264.39H575.94M573.84 262.29V266.49M571.74 262.29L575.94 266.49M571.74 266.49L575.94 262.29M575.19 265.14H579.39M577.29 263.04V267.24M575.19 263.04L579.39 267.24M575.19 267.24L579.39 263.04M578.63 265.89H582.83M580.73 263.79V267.99M578.63 263.79L582.83 267.99M578.63 267.99L582.83 263.79M582.08 266.63H586.28M584.18 264.53V268.73M582.08 264.53L586.28 268.73M582.08 268.73L586.28 264.53M585.52 288.29H589.72M587.62 286.19V290.39M585.52 286.19L589.72 290.39M585.52 290.39L589.72 286.19M588.97 327.09H593.17M591.07 324.99V329.19M588.97 324.99L593.17 329.19M588.97 329.19L593.17 324.99M592.42 327.36H596.62M594.52 325.26V329.46M592.42 325.26L596.62 329.46M592.42 329.46L596.62 325.26M595.86 327.62H600.06M597.96 325.52V329.72M595.86 325.52L600.06 329.72M595.86 329.72L600.06 325.52M599.31 327.89H603.51M601.41 325.79V329.99M599.31 325.79L603.51 329.99M599.31 329.99L603.51 325.79M602.75 333.97H606.95M604.85 331.87V336.07M602.75 331.87L606.95 336.07M602.75 336.07L606.95 331.87M606.20 334.02H610.40M608.3 331.92V336.12M606.20 331.92L610.40 336.12M606.20 336.12L610.40 331.92M609.64 334.08H613.84M611.74 331.98V336.18M609.64 331.98L613.84 336.18M609.64 336.18L613.84 331.98M613.09 334.13H617.29M615.19 332.03V336.23M613.09 332.03L617.29 336.23M613.09 336.23L617.29 332.03M616.53 334.18H620.73M618.63 332.08V336.28M616.53 332.08L620.73 336.28M616.53 336.28L620.73 332.08M619.98 334.24H624.18M622.08 332.14V336.34M619.98 332.14L624.18 336.34M619.98 336.34L624.18 332.14M623.43 334.29H627.63M625.53 332.19V336.39M623.43 332.19L627.63 336.39M623.43 336.39L627.63 332.19M626.87 334.34H631.07M628.97 332.24V336.44M626.87 332.24L631.07 336.44M626.87 336.44L631.07 332.24M630.32 334.4H634.52M632.42 332.30V336.50M630.32 332.30L634.52 336.50M630.32 336.50L634.52 332.30M633.76 334.45H637.96M635.86 332.35V336.55M633.76 332.35L637.96 336.55M633.76 336.55L637.96 332.35M637.21 334.5H641.41M639.31 332.40V336.60M637.21 332.40L641.41 336.60M637.21 336.60L641.41 332.40M640.65 334.29H644.85M642.75 332.19V336.39M640.65 332.19L644.85 336.39M640.65 336.39L644.85 332.19M644.10 334.08H648.30M646.2 331.98V336.18M644.10 331.98L648.30 336.18M644.10 336.18L648.30 331.98M647.54 333.86H651.74M649.64 331.76V335.96M647.54 331.76L651.74 335.96M647.54 335.96L651.74 331.76M650.99 333.65H655.19M653.09 331.55V335.75M650.99 331.55L655.19 335.75M650.99 335.75L655.19 331.55M654.44 333.44H658.64M656.54 331.34V335.54M654.44 331.34L658.64 335.54M654.44 335.54L658.64 331.34M657.88 333.76H662.08M659.98 331.66V335.86M657.88 331.66L662.08 335.86M657.88 335.86L662.08 331.66M661.33 334.08H665.53M663.43 331.98V336.18M661.33 331.98L665.53 336.18M661.33 336.18L665.53 331.98M664.77 334.4H668.97M666.87 332.30V336.50M664.77 332.30L668.97 336.50M664.77 336.50L668.97 332.30M668.22 334.71H672.42M670.32 332.61V336.81M668.22 332.61L672.42 336.81M668.22 336.81L672.42 332.61M671.66 335.03H675.86M673.76 332.93V337.13M671.66 332.93L675.86 337.13M671.66 337.13L675.86 332.93M675.11 334.83H679.31M677.21 332.73V336.93M675.11 332.73L679.31 336.93M675.11 336.93L679.31 332.73M678.55 334.63H682.75M680.65 332.53V336.73M678.55 332.53L682.75 336.73M678.55 336.73L682.75 332.53M682.00 334.44H686.20M684.1 332.34V336.54M682.00 332.34L686.20 336.54M682.00 336.54L686.20 332.34M685.44 334.24H689.64M687.54 332.14V336.34M685.44 332.14L689.64 336.34M685.44 336.34L689.64 332.14M688.89 271.3H693.09M690.99 269.20V273.40M688.89 269.20L693.09 273.40M688.89 273.40L693.09 269.20M692.34 272.09H696.54M694.44 269.99V274.19M692.34 269.99L696.54 274.19M692.34 274.19L696.54 269.99M695.78 272.89H699.98M697.88 270.79V274.99M695.78 270.79L699.98 274.99M695.78 274.99L699.98 270.79M699.23 270.77H703.43M701.33 268.67V272.87M699.23 268.67L703.43 272.87M699.23 272.87L703.43 268.67M702.67 334.5H706.87M704.77 332.40V336.60M702.67 332.40L706.87 336.60M702.67 336.60L706.87 332.40M706.12 413.11H710.32M708.22 411.01V415.21M706.12 411.01L710.32 415.21M706.12 415.21L710.32 411.01M709.56 329.19H713.76M711.66 327.09V331.29M709.56 327.09L713.76 331.29M709.56 331.29L713.76 327.09M713.01 287.76H717.21M715.11 285.66V289.86M713.01 285.66L717.21 289.86M713.01 289.86L717.21 285.66M716.45 269.17H720.65M718.55 267.07V271.27M716.45 267.07L720.65 271.27M716.45 271.27L720.65 267.07M719.90 254.3H724.10M722.0 252.20V256.40M719.90 252.20L724.10 256.40M719.90 256.40L724.10 252.20M723.34 240.49H727.54M725.44 238.39V242.59M723.34 238.39L727.54 242.59M723.34 242.59L727.54 238.39M726.79 235.97H730.99M728.89 233.87V238.07M726.79 233.87L730.99 238.07M726.79 238.07L730.99 233.87M730.24 231.44H734.44M732.34 229.34V233.54M730.24 229.34L734.44 233.54M730.24 233.54L734.44 229.34M733.68 227.12H737.88M735.78 225.02V229.22M733.68 225.02L737.88 229.22M733.68 229.22L737.88 225.02M737.13 223.74H741.33M739.23 221.64V225.84M737.13 221.64L741.33 225.84M737.13 225.84L741.33 221.64" fill="none" stroke="#2c2ccc" stroke-width="0.9"/>
<path d="M70.80 234.12L244.45 234.12L249.28 217.65L262.37 181.80L275.81 150.73L294.41 109.84L298.55 101.34L301.99 92.47L361.26 92.47L366.08 107.18L369.87 118.33L373.31 127.36L377.10 137.45L379.86 150.73L384.00 160.82L387.44 171.98L390.89 181.01L394.68 194.28L397.43 205.44L398.81 208.09L416.38 208.09L418.45 216.06L422.59 225.89L426.03 239.54L527.33 239.54L529.74 246.87L532.84 255.90L545.93 289.89L569.71 349.11L589.00 349.11L590.73 350.70L687.54 350.70L688.58 298.39L693.40 287.76L700.64 270.77L704.43 258.02L706.84 247.40L710.63 232.68L743.71 232.68" fill="none" stroke="#f045d8" stroke-width="0.95" stroke-linejoin="round"/>
<path d="M68.70 232.02H72.90V236.22H68.70ZM72.15 232.02H76.35V236.22H72.15ZM75.59 232.02H79.79V236.22H75.59ZM79.04 232.02H83.24V236.22H79.04ZM82.48 232.02H86.68V236.22H82.48ZM85.93 232.02H90.13V236.22H85.93ZM89.37 232.02H93.57V236.22H89.37ZM92.82 232.02H97.02V236.22H92.82ZM96.26 232.02H100.46V236.22H96.26ZM99.71 232.02H103.91V236.22H99.71ZM103.16 232.02H107.36V236.22H103.16ZM106.60 232.02H110.80V236.22H106.60ZM110.05 232.02H114.25V236.22H110.05ZM113.49 232.02H117.69V236.22H113.49ZM116.94 232.02H121.14V236.22H116.94ZM120.38 232.02H124.58V236.22H120.38ZM123.83 232.02H128.03V236.22H123.83ZM127.27 232.02H131.47V236.22H127.27ZM130.72 232.02H134.92V236.22H130.72ZM134.16 232.02H138.36V236.22H134.16ZM137.61 232.02H141.81V236.22H137.61ZM141.06 232.02H145.26V236.22H141.06ZM144.50 232.02H148.70V236.22H144.50ZM147.95 232.02H152.15V236.22H147.95ZM151.39 232.02H155.59V236.22H151.39ZM154.84 232.02H159.04V236.22H154.84ZM158.28 232.02H162.48V236.22H158.28ZM161.73 232.02H165.93V236.22H161.73ZM165.17 232.02H169.37V236.22H165.17ZM168.62 232.02H172.82V236.22H168.62ZM172.06 232.02H176.26V236.22H172.06ZM175.51 232.02H179.71V236.22H175.51ZM178.96 232.02H183.16V236.22H178.96ZM182.40 232.02H186.60V236.22H182.40ZM185.85 232.02H190.05V236.22H185.85ZM189.29 232.02H193.49V236.22H189.29ZM192.74 232.02H196.94V236.22H192.74ZM196.18 232.02H200.38V236.22H196.18ZM199.63 232.02H203.83V236.22H199.63ZM203.07 232.02H207.27V236.22H203.07ZM206.52 232.02H210.72V236.22H206.52ZM209.97 232.02H214.17V236.22H209.97ZM213.41 232.02H217.61V236.22H213.41ZM216.86 232.02H221.06V236.22H216.86ZM220.30 232.02H224.50V236.22H220.30ZM223.75 232.02H227.95V236.22H223.75ZM227.19 232.02H231.39V236.22H227.19ZM230.64 232.02H234.84V236.22H230.64ZM234.08 232.02H238.28V236.22H234.08ZM237.53 232.02H241.73V236.22H237.53ZM240.98 232.02H245.18V236.22H240.98ZM244.42 224.96H248.62V229.16H244.42ZM247.87 213.67H252.07V217.87H247.87ZM251.31 204.23H255.51V208.43H251.31ZM254.76 194.80H258.96V199.00H254.76ZM258.20 185.36H262.40V189.56H258.20ZM261.65 176.52H265.85V180.72H261.65ZM265.09 168.55H269.29V172.75H265.09ZM268.54 160.58H272.74V164.78H268.54ZM271.98 152.62H276.18V156.82H271.98ZM275.43 144.85H279.63V149.05H275.43ZM278.88 137.27H283.08V141.47H278.88ZM282.32 129.70H286.52V133.90H282.32ZM285.77 122.13H289.97V126.33H285.77ZM289.21 114.55H293.41V118.75H289.21ZM292.66 107.03H296.86V111.23H292.66ZM296.10 99.95H300.30V104.15H296.10ZM299.55 91.25H303.75V95.45H299.55ZM302.99 90.37H307.19V94.57H302.99ZM306.44 90.37H310.64V94.57H306.44ZM309.88 90.37H314.08V94.57H309.88ZM313.33 90.37H317.53V94.57H313.33ZM316.78 90.37H320.98V94.57H316.78ZM320.22 90.37H324.42V94.57H320.22ZM323.67 90.37H327.87V94.57H323.67ZM327.11 90.37H331.31V94.57H327.11ZM330.56 90.37H334.76V94.57H330.56ZM334.00 90.37H338.20V94.57H334.00ZM337.45 90.37H341.65V94.57H337.45ZM340.89 90.37H345.09V94.57H340.89ZM344.34 90.37H348.54V94.57H344.34ZM347.79 90.37H351.99V94.57H347.79ZM351.23 90.37H355.43V94.57H351.23ZM354.68 90.37H358.88V94.57H354.68ZM358.12 90.37H362.32V94.57H358.12ZM361.57 97.72H365.77V101.92H361.57ZM365.01 108.12H369.21V112.32H365.01ZM368.46 118.04H372.66V122.24H368.46ZM371.90 127.10H376.10V131.30H371.90ZM375.35 137.01H379.55V141.21H375.35ZM378.80 151.16H383.00V155.36H378.80ZM382.24 159.84H386.44V164.04H382.24ZM385.69 170.78H389.89V174.98H385.69ZM389.13 180.11H393.33V184.31H389.13ZM392.58 192.18H396.78V196.38H392.58ZM396.02 204.67H400.22V208.87H396.02ZM399.47 205.99H403.67V210.19H399.47ZM402.91 205.99H407.11V210.19H402.91ZM406.36 205.99H410.56V210.19H406.36ZM409.80 205.99H414.00V210.19H409.80ZM413.25 205.99H417.45V210.19H413.25ZM416.70 214.78H420.90V218.98H416.70ZM420.14 222.97H424.34V227.17H420.14ZM423.59 236.07H427.79V240.27H423.59ZM427.03 237.44H431.23V241.64H427.03ZM430.48 237.44H434.68V241.64H430.48ZM433.92 237.44H438.12V241.64H433.92ZM437.37 237.44H441.57V241.64H437.37ZM440.81 237.44H445.01V241.64H440.81ZM444.26 237.44H448.46V241.64H444.26ZM447.70 237.44H451.90V241.64H447.70ZM451.15 237.44H455.35V241.64H451.15ZM454.60 237.44H458.80V241.64H454.60ZM458.04 237.44H462.24V241.64H458.04ZM461.49 237.44H465.69V241.64H461.49ZM464.93 237.44H469.13V241.64H464.93ZM468.38 237.44H472.58V241.64H468.38ZM471.82 237.44H476.02V241.64H471.82ZM475.27 237.44H479.47V241.64H475.27ZM478.71 237.44H482.91V241.64H478.71ZM482.16 237.44H486.36V241.64H482.16ZM485.61 237.44H489.81V241.64H485.61ZM489.05 237.44H493.25V241.64H489.05ZM492.50 237.44H496.70V241.64H492.50ZM495.94 237.44H500.14V241.64H495.94ZM499.39 237.44H503.59V241.64H499.39ZM502.83 237.44H507.03V241.64H502.83ZM506.28 237.44H510.48V241.64H506.28ZM509.72 237.44H513.92V241.64H509.72ZM513.17 237.44H517.37V241.64H513.17ZM516.62 237.44H520.82V241.64H516.62ZM520.06 237.44H524.26V241.64H520.06ZM523.51 237.44H527.71V241.64H523.51ZM526.95 242.67H531.15V246.87H526.95ZM530.40 252.79H534.60V256.99H530.40ZM533.84 261.85H538.04V266.05H533.84ZM537.29 270.79H541.49V274.99H537.29ZM540.73 279.74H544.93V283.94H540.73ZM544.18 288.65H548.38V292.85H544.18ZM547.62 297.23H551.82V301.43H547.62ZM551.07 305.81H555.27V310.01H551.07ZM554.52 314.39H558.72V318.59H554.52ZM557.96 322.98H562.16V327.18H557.96ZM561.41 331.56H565.61V335.76H561.41ZM564.85 340.14H569.05V344.34H564.85ZM568.30 347.01H572.50V351.21H568.30ZM571.74 347.01H575.94V351.21H571.74ZM575.19 347.01H579.39V351.21H575.19ZM578.63 347.01H582.83V351.21H578.63ZM582.08 347.01H586.28V351.21H582.08ZM585.52 347.01H589.72V351.21H585.52ZM588.97 348.60H593.17V352.80H588.97ZM592.42 348.60H596.62V352.80H592.42ZM595.86 348.60H600.06V352.80H595.86ZM599.31 348.60H603.51V352.80H599.31ZM602.75 348.60H606.95V352.80H602.75ZM606.20 348.60H610.40V352.80H606.20ZM609.64 348.60H613.84V352.80H609.64ZM613.09 348.60H617.29V352.80H613.09ZM616.53 348.60H620.73V352.80H616.53ZM619.98 348.60H624.18V352.80H619.98ZM623.43 348.60H627.63V352.80H623.43ZM626.87 348.60H631.07V352.80H626.87ZM630.32 348.60H634.52V352.80H630.32ZM633.76 348.60H637.96V352.80H633.76ZM637.21 348.60H641.41V352.80H637.21ZM640.65 348.60H644.85V352.80H640.65ZM644.10 348.60H648.30V352.80H644.10ZM647.54 348.60H651.74V352.80H647.54ZM650.99 348.60H655.19V352.80H650.99ZM654.44 348.60H658.64V352.80H654.44ZM657.88 348.60H662.08V352.80H657.88ZM661.33 348.60H665.53V352.80H661.33ZM664.77 348.60H668.97V352.80H664.77ZM668.22 348.60H672.42V352.80H668.22ZM671.66 348.60H675.86V352.80H671.66ZM675.11 348.60H679.31V352.80H675.11ZM678.55 348.60H682.75V352.80H678.55ZM682.00 348.60H686.20V352.80H682.00ZM685.44 348.60H689.64V352.80H685.44ZM688.89 290.97H693.09V295.17H688.89ZM692.34 283.23H696.54V287.43H692.34ZM695.78 275.14H699.98V279.34H695.78ZM699.23 266.35H703.43V270.55H699.23ZM702.67 254.40H706.87V258.60H702.67ZM706.12 239.95H710.32V244.15H706.12ZM709.56 230.58H713.76V234.78H709.56ZM713.01 230.58H717.21V234.78H713.01ZM716.45 230.58H720.65V234.78H716.45ZM719.90 230.58H724.10V234.78H719.90ZM723.34 230.58H727.54V234.78H723.34ZM726.79 230.58H730.99V234.78H726.79ZM730.24 230.58H734.44V234.78H730.24ZM733.68 230.58H737.88V234.78H733.68ZM737.13 230.58H741.33V234.78H737.13ZM740.57 230.58H744.77V234.78H740.57Z" fill="none" stroke="#f045d8" stroke-width="0.85"/>
<path d="M70.80 235.71L244.45 235.71L249.28 218.19L262.37 182.60L275.81 151.79L294.41 112.49L299.24 102.93L303.37 95.50L361.94 95.50L366.08 110.37L369.87 121.52L373.31 130.55L377.10 140.64L379.86 153.92L384.00 164.01L387.44 175.16L390.89 183.93L394.33 200.13L397.43 208.09L398.81 212.34L415.35 212.34L418.45 219.78L421.21 231.46L426.72 243.84L525.95 243.84L529.05 250.58L532.15 259.61L535.25 270.77L538.35 277.67L542.83 286.17L545.93 292.54L569.02 354.68L687.54 354.68L688.58 306.35L692.71 297.85L696.50 286.70L700.64 277.67L704.43 265.99L707.53 251.11L710.63 242.62L713.73 236.88L742.67 236.88" fill="none" stroke="#22e6e6" stroke-width="0.95" stroke-linejoin="round"/>
<path d="M69.00 233.91H72.60V237.51H69.00ZM72.45 233.91H76.05V237.51H72.45ZM75.89 233.91H79.49V237.51H75.89ZM79.34 233.91H82.94V237.51H79.34ZM82.78 233.91H86.38V237.51H82.78ZM86.23 233.91H89.83V237.51H86.23ZM89.67 233.91H93.27V237.51H89.67ZM93.12 233.91H96.72V237.51H93.12ZM96.56 233.91H100.16V237.51H96.56ZM100.01 233.91H103.61V237.51H100.01ZM103.46 233.91H107.06V237.51H103.46ZM106.90 233.91H110.50V237.51H106.90ZM110.35 233.91H113.95V237.51H110.35ZM113.79 233.91H117.39V237.51H113.79ZM117.24 233.91H120.84V237.51H117.24ZM120.68 233.91H124.28V237.51H120.68ZM124.13 233.91H127.73V237.51H124.13ZM127.57 233.91H131.17V237.51H127.57ZM131.02 233.91H134.62V237.51H131.02ZM134.46 233.91H138.06V237.51H134.46ZM137.91 233.91H141.51V237.51H137.91ZM141.36 233.91H144.96V237.51H141.36ZM144.80 233.91H148.40V237.51H144.80ZM148.25 233.91H151.85V237.51H148.25ZM151.69 233.91H155.29V237.51H151.69ZM155.14 233.91H158.74V237.51H155.14ZM158.58 233.91H162.18V237.51H158.58ZM162.03 233.91H165.63V237.51H162.03ZM165.47 233.91H169.07V237.51H165.47ZM168.92 233.91H172.52V237.51H168.92ZM172.36 233.91H175.96V237.51H172.36ZM175.81 233.91H179.41V237.51H175.81ZM179.26 233.91H182.86V237.51H179.26ZM182.70 233.91H186.30V237.51H182.70ZM186.15 233.91H189.75V237.51H186.15ZM189.59 233.91H193.19V237.51H189.59ZM193.04 233.91H196.64V237.51H193.04ZM196.48 233.91H200.08V237.51H196.48ZM199.93 233.91H203.53V237.51H199.93ZM203.37 233.91H206.97V237.51H203.37ZM206.82 233.91H210.42V237.51H206.82ZM210.27 233.91H213.87V237.51H210.27ZM213.71 233.91H217.31V237.51H213.71ZM217.16 233.91H220.76V237.51H217.16ZM220.60 233.91H224.20V237.51H220.60ZM224.05 233.91H227.65V237.51H224.05ZM227.49 233.91H231.09V237.51H227.49ZM230.94 233.91H234.54V237.51H230.94ZM234.38 233.91H237.98V237.51H234.38ZM237.83 233.91H241.43V237.51H237.83ZM241.28 233.91H244.88V237.51H241.28ZM244.72 226.40H248.32V230.00H244.72ZM248.17 214.51H251.77V218.11H248.17ZM251.61 205.15H255.21V208.75H251.61ZM255.06 195.78H258.66V199.38H255.06ZM258.50 186.42H262.10V190.02H258.50ZM261.95 177.64H265.55V181.24H261.95ZM265.39 169.74H268.99V173.34H265.39ZM268.84 161.84H272.44V165.44H268.84ZM272.28 153.94H275.88V157.54H272.28ZM275.73 146.36H279.33V149.96H275.73ZM279.18 139.08H282.78V142.68H279.18ZM282.62 131.80H286.22V135.40H282.62ZM286.07 124.52H289.67V128.12H286.07ZM289.51 117.24H293.11V120.84H289.51ZM292.96 110.01H296.56V113.61H292.96ZM296.40 103.18H300.00V106.78H296.40ZM299.85 96.79H303.45V100.39H299.85ZM303.29 93.70H306.89V97.30H303.29ZM306.74 93.70H310.34V97.30H306.74ZM310.18 93.70H313.78V97.30H310.18ZM313.63 93.70H317.23V97.30H313.63ZM317.08 93.70H320.68V97.30H317.08ZM320.52 93.70H324.12V97.30H320.52ZM323.97 93.70H327.57V97.30H323.97ZM327.41 93.70H331.01V97.30H327.41ZM330.86 93.70H334.46V97.30H330.86ZM334.30 93.70H337.90V97.30H334.30ZM337.75 93.70H341.35V97.30H337.75ZM341.19 93.70H344.79V97.30H341.19ZM344.64 93.70H348.24V97.30H344.64ZM348.09 93.70H351.69V97.30H348.09ZM351.53 93.70H355.13V97.30H351.53ZM354.98 93.70H358.58V97.30H354.98ZM358.42 93.70H362.02V97.30H358.42ZM361.87 99.89H365.47V103.49H361.87ZM365.31 111.61H368.91V115.21H365.31ZM368.76 121.53H372.36V125.13H368.76ZM372.20 130.58H375.80V134.18H372.20ZM375.65 140.50H379.25V144.10H375.65ZM379.10 154.64H382.70V158.24H379.10ZM382.54 163.33H386.14V166.93H382.54ZM385.99 174.24H389.59V177.84H385.99ZM389.43 183.75H393.03V187.35H389.43ZM392.88 199.21H396.48V202.81H392.88ZM396.32 208.42H399.92V212.02H396.32ZM399.77 210.54H403.37V214.14H399.77ZM403.21 210.54H406.81V214.14H403.21ZM406.66 210.54H410.26V214.14H406.66ZM410.10 210.54H413.70V214.14H410.10ZM413.55 210.54H417.15V214.14H413.55ZM417.00 219.44H420.60V223.04H417.00ZM420.44 231.98H424.04V235.58H420.44ZM423.89 239.72H427.49V243.32H423.89ZM427.33 242.04H430.93V245.64H427.33ZM430.78 242.04H434.38V245.64H430.78ZM434.22 242.04H437.82V245.64H434.22ZM437.67 242.04H441.27V245.64H437.67ZM441.11 242.04H444.71V245.64H441.11ZM444.56 242.04H448.16V245.64H444.56ZM448.00 242.04H451.60V245.64H448.00ZM451.45 242.04H455.05V245.64H451.45ZM454.90 242.04H458.50V245.64H454.90ZM458.34 242.04H461.94V245.64H458.34ZM461.79 242.04H465.39V245.64H461.79ZM465.23 242.04H468.83V245.64H465.23ZM468.68 242.04H472.28V245.64H468.68ZM472.12 242.04H475.72V245.64H472.12ZM475.57 242.04H479.17V245.64H475.57ZM479.01 242.04H482.61V245.64H479.01ZM482.46 242.04H486.06V245.64H482.46ZM485.91 242.04H489.51V245.64H485.91ZM489.35 242.04H492.95V245.64H489.35ZM492.80 242.04H496.40V245.64H492.80ZM496.24 242.04H499.84V245.64H496.24ZM499.69 242.04H503.29V245.64H499.69ZM503.13 242.04H506.73V245.64H503.13ZM506.58 242.04H510.18V245.64H506.58ZM510.02 242.04H513.62V245.64H510.02ZM513.47 242.04H517.07V245.64H513.47ZM516.92 242.04H520.52V245.64H516.92ZM520.36 242.04H523.96V245.64H520.36ZM523.81 242.04H527.41V245.64H523.81ZM527.25 248.78H530.85V252.38H527.25ZM530.70 259.05H534.30V262.65H530.70ZM534.14 270.50H537.74V274.10H534.14ZM537.59 277.83H541.19V281.43H537.59ZM541.03 284.37H544.63V287.97H541.03ZM544.48 291.67H548.08V295.27H544.48ZM547.92 300.94H551.52V304.54H547.92ZM551.37 310.22H554.97V313.82H551.37ZM554.82 319.49H558.42V323.09H554.82ZM558.26 328.77H561.86V332.37H558.26ZM561.71 338.04H565.31V341.64H561.71ZM565.15 347.32H568.75V350.92H565.15ZM568.60 352.88H572.20V356.48H568.60ZM572.04 352.88H575.64V356.48H572.04ZM575.49 352.88H579.09V356.48H575.49ZM578.93 352.88H582.53V356.48H578.93ZM582.38 352.88H585.98V356.48H582.38ZM585.82 352.88H589.42V356.48H585.82ZM589.27 352.88H592.87V356.48H589.27ZM592.72 352.88H596.32V356.48H592.72ZM596.16 352.88H599.76V356.48H596.16ZM599.61 352.88H603.21V356.48H599.61ZM603.05 352.88H606.65V356.48H603.05ZM606.50 352.88H610.10V356.48H606.50ZM609.94 352.88H613.54V356.48H609.94ZM613.39 352.88H616.99V356.48H613.39ZM616.83 352.88H620.43V356.48H616.83ZM620.28 352.88H623.88V356.48H620.28ZM623.73 352.88H627.33V356.48H623.73ZM627.17 352.88H630.77V356.48H627.17ZM630.62 352.88H634.22V356.48H630.62ZM634.06 352.88H637.66V356.48H634.06ZM637.51 352.88H641.11V356.48H637.51ZM640.95 352.88H644.55V356.48H640.95ZM644.40 352.88H648.00V356.48H644.40ZM647.84 352.88H651.44V356.48H647.84ZM651.29 352.88H654.89V356.48H651.29ZM654.74 352.88H658.34V356.48H654.74ZM658.18 352.88H661.78V356.48H658.18ZM661.63 352.88H665.23V356.48H661.63ZM665.07 352.88H668.67V356.48H665.07ZM668.52 352.88H672.12V356.48H668.52ZM671.96 352.88H675.56V356.48H671.96ZM675.41 352.88H679.01V356.48H675.41ZM678.85 352.88H682.45V356.48H678.85ZM682.30 352.88H685.90V356.48H682.30ZM685.74 352.88H689.34V356.48H685.74ZM689.19 299.59H692.79V303.19H689.19ZM692.64 290.98H696.24V294.58H692.64ZM696.08 281.89H699.68V285.49H696.08ZM699.53 273.75H703.13V277.35H699.53ZM702.97 262.53H706.57V266.13H702.97ZM706.42 247.43H710.02V251.03H706.42ZM709.86 238.90H713.46V242.50H709.86ZM713.31 235.08H716.91V238.68H713.31ZM716.75 235.08H720.35V238.68H716.75ZM720.20 235.08H723.80V238.68H720.20ZM723.64 235.08H727.24V238.68H723.64ZM727.09 235.08H730.69V238.68H727.09ZM730.54 235.08H734.14V238.68H730.54ZM733.98 235.08H737.58V238.68H733.98ZM737.43 235.08H741.03V238.68H737.43ZM740.87 235.08H744.47V238.68H740.87Z" fill="#22e6e6" stroke="none"/>
<path d="M70.80 233.06L244.45 233.06L249.28 218.19L262.37 182.60L275.81 152.33L291.66 125.24L308.54 100.81L314.74 96.82L362.63 96.82L368.84 107.71L378.83 130.02L391.23 167.20L395.71 182.60L401.57 190.57L405.01 194.28L414.66 196.94L418.45 204.38L421.90 213.94L425.34 222.43L429.48 224.56L433.61 226.68L436.02 228.81L449.81 229.60L499.76 229.71L508.38 227.75L515.27 227.21L522.16 228.81L525.95 230.93L529.74 235.18L533.53 247.40L538.35 259.61L545.25 276.61L551.45 290.95L552.83 293.07L563.16 308.48L566.95 315.38L570.74 325.47L583.83 327.07L587.62 333.44L594.52 337.16L612.78 342.47L619.67 338.22L625.53 340.34L637.93 341.94L647.23 338.75L656.53 340.34L666.87 339.28L677.21 341.41L687.54 340.34L688.58 287.76L692.71 276.08L697.54 267.58L703.74 260.68L708.22 270.24L709.60 255.90L711.32 241.02L714.42 235.18L717.52 228.81L723.03 223.50L731.30 220.31L742.33 219.25" fill="none" stroke="#c68b69" stroke-width="0.95" stroke-linejoin="round"/>
<path d="M68.70 233.06a2.1 2.1 0 1 0 4.2 0a2.1 2.1 0 1 0 -4.2 0ZM72.15 233.06a2.1 2.1 0 1 0 4.2 0a2.1 2.1 0 1 0 -4.2 0ZM75.59 233.06a2.1 2.1 0 1 0 4.2 0a2.1 2.1 0 1 0 -4.2 0ZM79.04 233.06a2.1 2.1 0 1 0 4.2 0a2.1 2.1 0 1 0 -4.2 0ZM82.48 233.06a2.1 2.1 0 1 0 4.2 0a2.1 2.1 0 1 0 -4.2 0ZM85.93 233.06a2.1 2.1 0 1 0 4.2 0a2.1 2.1 0 1 0 -4.2 0ZM89.37 233.06a2.1 2.1 0 1 0 4.2 0a2.1 2.1 0 1 0 -4.2 0ZM92.82 233.06a2.1 2.1 0 1 0 4.2 0a2.1 2.1 0 1 0 -4.2 0ZM96.26 233.06a2.1 2.1 0 1 0 4.2 0a2.1 2.1 0 1 0 -4.2 0ZM99.71 233.06a2.1 2.1 0 1 0 4.2 0a2.1 2.1 0 1 0 -4.2 0ZM103.16 233.06a2.1 2.1 0 1 0 4.2 0a2.1 2.1 0 1 0 -4.2 0ZM106.60 233.06a2.1 2.1 0 1 0 4.2 0a2.1 2.1 0 1 0 -4.2 0ZM110.05 233.06a2.1 2.1 0 1 0 4.2 0a2.1 2.1 0 1 0 -4.2 0ZM113.49 233.06a2.1 2.1 0 1 0 4.2 0a2.1 2.1 0 1 0 -4.2 0ZM116.94 233.06a2.1 2.1 0 1 0 4.2 0a2.1 2.1 0 1 0 -4.2 0ZM120.38 233.06a2.1 2.1 0 1 0 4.2 0a2.1 2.1 0 1 0 -4.2 0ZM123.83 233.06a2.1 2.1 0 1 0 4.2 0a2.1 2.1 0 1 0 -4.2 0ZM127.27 233.06a2.1 2.1 0 1 0 4.2 0a2.1 2.1 0 1 0 -4.2 0ZM130.72 233.06a2.1 2.1 0 1 0 4.2 0a2.1 2.1 0 1 0 -4.2 0ZM134.16 233.06a2.1 2.1 0 1 0 4.2 0a2.1 2.1 0 1 0 -4.2 0ZM137.61 233.06a2.1 2.1 0 1 0 4.2 0a2.1 2.1 0 1 0 -4.2 0ZM141.06 233.06a2.1 2.1 0 1 0 4.2 0a2.1 2.1 0 1 0 -4.2 0ZM144.50 233.06a2.1 2.1 0 1 0 4.2 0a2.1 2.1 0 1 0 -4.2 0ZM147.95 233.06a2.1 2.1 0 1 0 4.2 0a2.1 2.1 0 1 0 -4.2 0ZM151.39 233.06a2.1 2.1 0 1 0 4.2 0a2.1 2.1 0 1 0 -4.2 0ZM154.84 233.06a2.1 2.1 0 1 0 4.2 0a2.1 2.1 0 1 0 -4.2 0ZM158.28 233.06a2.1 2.1 0 1 0 4.2 0a2.1 2.1 0 1 0 -4.2 0ZM161.73 233.06a2.1 2.1 0 1 0 4.2 0a2.1 2.1 0 1 0 -4.2 0ZM165.17 233.06a2.1 2.1 0 1 0 4.2 0a2.1 2.1 0 1 0 -4.2 0ZM168.62 233.06a2.1 2.1 0 1 0 4.2 0a2.1 2.1 0 1 0 -4.2 0ZM172.06 233.06a2.1 2.1 0 1 0 4.2 0a2.1 2.1 0 1 0 -4.2 0ZM175.51 233.06a2.1 2.1 0 1 0 4.2 0a2.1 2.1 0 1 0 -4.2 0ZM178.96 233.06a2.1 2.1 0 1 0 4.2 0a2.1 2.1 0 1 0 -4.2 0ZM182.40 233.06a2.1 2.1 0 1 0 4.2 0a2.1 2.1 0 1 0 -4.2 0ZM185.85 233.06a2.1 2.1 0 1 0 4.2 0a2.1 2.1 0 1 0 -4.2 0ZM189.29 233.06a2.1 2.1 0 1 0 4.2 0a2.1 2.1 0 1 0 -4.2 0ZM192.74 233.06a2.1 2.1 0 1 0 4.2 0a2.1 2.1 0 1 0 -4.2 0ZM196.18 233.06a2.1 2.1 0 1 0 4.2 0a2.1 2.1 0 1 0 -4.2 0ZM199.63 233.06a2.1 2.1 0 1 0 4.2 0a2.1 2.1 0 1 0 -4.2 0ZM203.07 233.06a2.1 2.1 0 1 0 4.2 0a2.1 2.1 0 1 0 -4.2 0ZM206.52 233.06a2.1 2.1 0 1 0 4.2 0a2.1 2.1 0 1 0 -4.2 0ZM209.97 233.06a2.1 2.1 0 1 0 4.2 0a2.1 2.1 0 1 0 -4.2 0ZM213.41 233.06a2.1 2.1 0 1 0 4.2 0a2.1 2.1 0 1 0 -4.2 0ZM216.86 233.06a2.1 2.1 0 1 0 4.2 0a2.1 2.1 0 1 0 -4.2 0ZM220.30 233.06a2.1 2.1 0 1 0 4.2 0a2.1 2.1 0 1 0 -4.2 0ZM223.75 233.06a2.1 2.1 0 1 0 4.2 0a2.1 2.1 0 1 0 -4.2 0ZM227.19 233.06a2.1 2.1 0 1 0 4.2 0a2.1 2.1 0 1 0 -4.2 0ZM230.64 233.06a2.1 2.1 0 1 0 4.2 0a2.1 2.1 0 1 0 -4.2 0ZM234.08 233.06a2.1 2.1 0 1 0 4.2 0a2.1 2.1 0 1 0 -4.2 0ZM237.53 233.06a2.1 2.1 0 1 0 4.2 0a2.1 2.1 0 1 0 -4.2 0ZM240.98 233.06a2.1 2.1 0 1 0 4.2 0a2.1 2.1 0 1 0 -4.2 0ZM244.42 226.68a2.1 2.1 0 1 0 4.2 0a2.1 2.1 0 1 0 -4.2 0ZM247.87 216.31a2.1 2.1 0 1 0 4.2 0a2.1 2.1 0 1 0 -4.2 0ZM251.31 206.95a2.1 2.1 0 1 0 4.2 0a2.1 2.1 0 1 0 -4.2 0ZM254.76 197.58a2.1 2.1 0 1 0 4.2 0a2.1 2.1 0 1 0 -4.2 0ZM258.20 188.22a2.1 2.1 0 1 0 4.2 0a2.1 2.1 0 1 0 -4.2 0ZM261.65 179.49a2.1 2.1 0 1 0 4.2 0a2.1 2.1 0 1 0 -4.2 0ZM265.09 171.73a2.1 2.1 0 1 0 4.2 0a2.1 2.1 0 1 0 -4.2 0ZM268.54 163.97a2.1 2.1 0 1 0 4.2 0a2.1 2.1 0 1 0 -4.2 0ZM271.98 156.21a2.1 2.1 0 1 0 4.2 0a2.1 2.1 0 1 0 -4.2 0ZM275.43 149.38a2.1 2.1 0 1 0 4.2 0a2.1 2.1 0 1 0 -4.2 0ZM278.88 143.49a2.1 2.1 0 1 0 4.2 0a2.1 2.1 0 1 0 -4.2 0ZM282.32 137.6a2.1 2.1 0 1 0 4.2 0a2.1 2.1 0 1 0 -4.2 0ZM285.77 131.72a2.1 2.1 0 1 0 4.2 0a2.1 2.1 0 1 0 -4.2 0ZM289.21 125.83a2.1 2.1 0 1 0 4.2 0a2.1 2.1 0 1 0 -4.2 0ZM292.66 120.75a2.1 2.1 0 1 0 4.2 0a2.1 2.1 0 1 0 -4.2 0ZM296.10 115.76a2.1 2.1 0 1 0 4.2 0a2.1 2.1 0 1 0 -4.2 0ZM299.55 110.78a2.1 2.1 0 1 0 4.2 0a2.1 2.1 0 1 0 -4.2 0ZM302.99 105.79a2.1 2.1 0 1 0 4.2 0a2.1 2.1 0 1 0 -4.2 0ZM306.44 100.81a2.1 2.1 0 1 0 4.2 0a2.1 2.1 0 1 0 -4.2 0ZM309.88 98.59a2.1 2.1 0 1 0 4.2 0a2.1 2.1 0 1 0 -4.2 0ZM313.33 96.82a2.1 2.1 0 1 0 4.2 0a2.1 2.1 0 1 0 -4.2 0ZM316.78 96.82a2.1 2.1 0 1 0 4.2 0a2.1 2.1 0 1 0 -4.2 0ZM320.22 96.82a2.1 2.1 0 1 0 4.2 0a2.1 2.1 0 1 0 -4.2 0ZM323.67 96.82a2.1 2.1 0 1 0 4.2 0a2.1 2.1 0 1 0 -4.2 0ZM327.11 96.82a2.1 2.1 0 1 0 4.2 0a2.1 2.1 0 1 0 -4.2 0ZM330.56 96.82a2.1 2.1 0 1 0 4.2 0a2.1 2.1 0 1 0 -4.2 0ZM334.00 96.82a2.1 2.1 0 1 0 4.2 0a2.1 2.1 0 1 0 -4.2 0ZM337.45 96.82a2.1 2.1 0 1 0 4.2 0a2.1 2.1 0 1 0 -4.2 0ZM340.89 96.82a2.1 2.1 0 1 0 4.2 0a2.1 2.1 0 1 0 -4.2 0ZM344.34 96.82a2.1 2.1 0 1 0 4.2 0a2.1 2.1 0 1 0 -4.2 0ZM347.79 96.82a2.1 2.1 0 1 0 4.2 0a2.1 2.1 0 1 0 -4.2 0ZM351.23 96.82a2.1 2.1 0 1 0 4.2 0a2.1 2.1 0 1 0 -4.2 0ZM354.68 96.82a2.1 2.1 0 1 0 4.2 0a2.1 2.1 0 1 0 -4.2 0ZM358.12 96.82a2.1 2.1 0 1 0 4.2 0a2.1 2.1 0 1 0 -4.2 0ZM361.57 98.64a2.1 2.1 0 1 0 4.2 0a2.1 2.1 0 1 0 -4.2 0ZM365.01 104.69a2.1 2.1 0 1 0 4.2 0a2.1 2.1 0 1 0 -4.2 0ZM368.46 111.56a2.1 2.1 0 1 0 4.2 0a2.1 2.1 0 1 0 -4.2 0ZM371.90 119.25a2.1 2.1 0 1 0 4.2 0a2.1 2.1 0 1 0 -4.2 0ZM375.35 126.94a2.1 2.1 0 1 0 4.2 0a2.1 2.1 0 1 0 -4.2 0ZM378.80 136.21a2.1 2.1 0 1 0 4.2 0a2.1 2.1 0 1 0 -4.2 0ZM382.24 146.54a2.1 2.1 0 1 0 4.2 0a2.1 2.1 0 1 0 -4.2 0ZM385.69 156.87a2.1 2.1 0 1 0 4.2 0a2.1 2.1 0 1 0 -4.2 0ZM389.13 167.2a2.1 2.1 0 1 0 4.2 0a2.1 2.1 0 1 0 -4.2 0ZM392.58 179.05a2.1 2.1 0 1 0 4.2 0a2.1 2.1 0 1 0 -4.2 0ZM396.02 185.88a2.1 2.1 0 1 0 4.2 0a2.1 2.1 0 1 0 -4.2 0ZM399.47 190.57a2.1 2.1 0 1 0 4.2 0a2.1 2.1 0 1 0 -4.2 0ZM402.91 194.28a2.1 2.1 0 1 0 4.2 0a2.1 2.1 0 1 0 -4.2 0ZM406.36 195.23a2.1 2.1 0 1 0 4.2 0a2.1 2.1 0 1 0 -4.2 0ZM409.80 196.18a2.1 2.1 0 1 0 4.2 0a2.1 2.1 0 1 0 -4.2 0ZM413.25 198.29a2.1 2.1 0 1 0 4.2 0a2.1 2.1 0 1 0 -4.2 0ZM416.70 205.33a2.1 2.1 0 1 0 4.2 0a2.1 2.1 0 1 0 -4.2 0ZM420.14 214.79a2.1 2.1 0 1 0 4.2 0a2.1 2.1 0 1 0 -4.2 0ZM423.59 222.61a2.1 2.1 0 1 0 4.2 0a2.1 2.1 0 1 0 -4.2 0ZM427.03 224.38a2.1 2.1 0 1 0 4.2 0a2.1 2.1 0 1 0 -4.2 0ZM430.48 226.15a2.1 2.1 0 1 0 4.2 0a2.1 2.1 0 1 0 -4.2 0ZM433.92 228.81a2.1 2.1 0 1 0 4.2 0a2.1 2.1 0 1 0 -4.2 0ZM437.37 229.01a2.1 2.1 0 1 0 4.2 0a2.1 2.1 0 1 0 -4.2 0ZM440.81 229.21a2.1 2.1 0 1 0 4.2 0a2.1 2.1 0 1 0 -4.2 0ZM444.26 229.41a2.1 2.1 0 1 0 4.2 0a2.1 2.1 0 1 0 -4.2 0ZM447.70 229.6a2.1 2.1 0 1 0 4.2 0a2.1 2.1 0 1 0 -4.2 0ZM451.15 229.61a2.1 2.1 0 1 0 4.2 0a2.1 2.1 0 1 0 -4.2 0ZM454.60 229.62a2.1 2.1 0 1 0 4.2 0a2.1 2.1 0 1 0 -4.2 0ZM458.04 229.63a2.1 2.1 0 1 0 4.2 0a2.1 2.1 0 1 0 -4.2 0ZM461.49 229.63a2.1 2.1 0 1 0 4.2 0a2.1 2.1 0 1 0 -4.2 0ZM464.93 229.64a2.1 2.1 0 1 0 4.2 0a2.1 2.1 0 1 0 -4.2 0ZM468.38 229.65a2.1 2.1 0 1 0 4.2 0a2.1 2.1 0 1 0 -4.2 0ZM471.82 229.66a2.1 2.1 0 1 0 4.2 0a2.1 2.1 0 1 0 -4.2 0ZM475.27 229.66a2.1 2.1 0 1 0 4.2 0a2.1 2.1 0 1 0 -4.2 0ZM478.71 229.67a2.1 2.1 0 1 0 4.2 0a2.1 2.1 0 1 0 -4.2 0ZM482.16 229.68a2.1 2.1 0 1 0 4.2 0a2.1 2.1 0 1 0 -4.2 0ZM485.61 229.68a2.1 2.1 0 1 0 4.2 0a2.1 2.1 0 1 0 -4.2 0ZM489.05 229.69a2.1 2.1 0 1 0 4.2 0a2.1 2.1 0 1 0 -4.2 0ZM492.50 229.7a2.1 2.1 0 1 0 4.2 0a2.1 2.1 0 1 0 -4.2 0ZM495.94 229.71a2.1 2.1 0 1 0 4.2 0a2.1 2.1 0 1 0 -4.2 0ZM499.39 229.32a2.1 2.1 0 1 0 4.2 0a2.1 2.1 0 1 0 -4.2 0ZM502.83 228.53a2.1 2.1 0 1 0 4.2 0a2.1 2.1 0 1 0 -4.2 0ZM506.28 227.75a2.1 2.1 0 1 0 4.2 0a2.1 2.1 0 1 0 -4.2 0ZM509.72 227.48a2.1 2.1 0 1 0 4.2 0a2.1 2.1 0 1 0 -4.2 0ZM513.17 227.21a2.1 2.1 0 1 0 4.2 0a2.1 2.1 0 1 0 -4.2 0ZM516.62 228.01a2.1 2.1 0 1 0 4.2 0a2.1 2.1 0 1 0 -4.2 0ZM520.06 228.81a2.1 2.1 0 1 0 4.2 0a2.1 2.1 0 1 0 -4.2 0ZM523.51 230.74a2.1 2.1 0 1 0 4.2 0a2.1 2.1 0 1 0 -4.2 0ZM526.95 234.41a2.1 2.1 0 1 0 4.2 0a2.1 2.1 0 1 0 -4.2 0ZM530.40 244.07a2.1 2.1 0 1 0 4.2 0a2.1 2.1 0 1 0 -4.2 0ZM533.84 253.5a2.1 2.1 0 1 0 4.2 0a2.1 2.1 0 1 0 -4.2 0ZM537.29 262.16a2.1 2.1 0 1 0 4.2 0a2.1 2.1 0 1 0 -4.2 0ZM540.73 270.66a2.1 2.1 0 1 0 4.2 0a2.1 2.1 0 1 0 -4.2 0ZM544.18 279.0a2.1 2.1 0 1 0 4.2 0a2.1 2.1 0 1 0 -4.2 0ZM547.62 286.97a2.1 2.1 0 1 0 4.2 0a2.1 2.1 0 1 0 -4.2 0ZM551.07 293.59a2.1 2.1 0 1 0 4.2 0a2.1 2.1 0 1 0 -4.2 0ZM554.52 298.72a2.1 2.1 0 1 0 4.2 0a2.1 2.1 0 1 0 -4.2 0ZM557.96 303.86a2.1 2.1 0 1 0 4.2 0a2.1 2.1 0 1 0 -4.2 0ZM561.41 309.1a2.1 2.1 0 1 0 4.2 0a2.1 2.1 0 1 0 -4.2 0ZM564.85 315.38a2.1 2.1 0 1 0 4.2 0a2.1 2.1 0 1 0 -4.2 0ZM568.30 324.55a2.1 2.1 0 1 0 4.2 0a2.1 2.1 0 1 0 -4.2 0ZM571.74 325.85a2.1 2.1 0 1 0 4.2 0a2.1 2.1 0 1 0 -4.2 0ZM575.19 326.27a2.1 2.1 0 1 0 4.2 0a2.1 2.1 0 1 0 -4.2 0ZM578.63 326.69a2.1 2.1 0 1 0 4.2 0a2.1 2.1 0 1 0 -4.2 0ZM582.08 327.65a2.1 2.1 0 1 0 4.2 0a2.1 2.1 0 1 0 -4.2 0ZM585.52 333.44a2.1 2.1 0 1 0 4.2 0a2.1 2.1 0 1 0 -4.2 0ZM588.97 335.3a2.1 2.1 0 1 0 4.2 0a2.1 2.1 0 1 0 -4.2 0ZM592.42 337.16a2.1 2.1 0 1 0 4.2 0a2.1 2.1 0 1 0 -4.2 0ZM595.86 338.16a2.1 2.1 0 1 0 4.2 0a2.1 2.1 0 1 0 -4.2 0ZM599.31 339.16a2.1 2.1 0 1 0 4.2 0a2.1 2.1 0 1 0 -4.2 0ZM602.75 340.16a2.1 2.1 0 1 0 4.2 0a2.1 2.1 0 1 0 -4.2 0ZM606.20 341.17a2.1 2.1 0 1 0 4.2 0a2.1 2.1 0 1 0 -4.2 0ZM609.64 342.17a2.1 2.1 0 1 0 4.2 0a2.1 2.1 0 1 0 -4.2 0ZM613.09 340.98a2.1 2.1 0 1 0 4.2 0a2.1 2.1 0 1 0 -4.2 0ZM616.53 338.86a2.1 2.1 0 1 0 4.2 0a2.1 2.1 0 1 0 -4.2 0ZM619.98 339.09a2.1 2.1 0 1 0 4.2 0a2.1 2.1 0 1 0 -4.2 0ZM623.43 340.34a2.1 2.1 0 1 0 4.2 0a2.1 2.1 0 1 0 -4.2 0ZM626.87 340.79a2.1 2.1 0 1 0 4.2 0a2.1 2.1 0 1 0 -4.2 0ZM630.32 341.23a2.1 2.1 0 1 0 4.2 0a2.1 2.1 0 1 0 -4.2 0ZM633.76 341.67a2.1 2.1 0 1 0 4.2 0a2.1 2.1 0 1 0 -4.2 0ZM637.21 341.47a2.1 2.1 0 1 0 4.2 0a2.1 2.1 0 1 0 -4.2 0ZM640.65 340.28a2.1 2.1 0 1 0 4.2 0a2.1 2.1 0 1 0 -4.2 0ZM644.10 339.1a2.1 2.1 0 1 0 4.2 0a2.1 2.1 0 1 0 -4.2 0ZM647.54 339.16a2.1 2.1 0 1 0 4.2 0a2.1 2.1 0 1 0 -4.2 0ZM650.99 339.75a2.1 2.1 0 1 0 4.2 0a2.1 2.1 0 1 0 -4.2 0ZM654.44 340.34a2.1 2.1 0 1 0 4.2 0a2.1 2.1 0 1 0 -4.2 0ZM657.88 339.99a2.1 2.1 0 1 0 4.2 0a2.1 2.1 0 1 0 -4.2 0ZM661.33 339.64a2.1 2.1 0 1 0 4.2 0a2.1 2.1 0 1 0 -4.2 0ZM664.77 339.28a2.1 2.1 0 1 0 4.2 0a2.1 2.1 0 1 0 -4.2 0ZM668.22 339.99a2.1 2.1 0 1 0 4.2 0a2.1 2.1 0 1 0 -4.2 0ZM671.66 340.7a2.1 2.1 0 1 0 4.2 0a2.1 2.1 0 1 0 -4.2 0ZM675.11 341.41a2.1 2.1 0 1 0 4.2 0a2.1 2.1 0 1 0 -4.2 0ZM678.55 341.05a2.1 2.1 0 1 0 4.2 0a2.1 2.1 0 1 0 -4.2 0ZM682.00 340.7a2.1 2.1 0 1 0 4.2 0a2.1 2.1 0 1 0 -4.2 0ZM685.44 340.34a2.1 2.1 0 1 0 4.2 0a2.1 2.1 0 1 0 -4.2 0ZM688.89 280.95a2.1 2.1 0 1 0 4.2 0a2.1 2.1 0 1 0 -4.2 0ZM692.34 273.04a2.1 2.1 0 1 0 4.2 0a2.1 2.1 0 1 0 -4.2 0ZM695.78 267.2a2.1 2.1 0 1 0 4.2 0a2.1 2.1 0 1 0 -4.2 0ZM699.23 263.36a2.1 2.1 0 1 0 4.2 0a2.1 2.1 0 1 0 -4.2 0ZM702.67 262.88a2.1 2.1 0 1 0 4.2 0a2.1 2.1 0 1 0 -4.2 0ZM706.12 270.24a2.1 2.1 0 1 0 4.2 0a2.1 2.1 0 1 0 -4.2 0ZM709.56 240.37a2.1 2.1 0 1 0 4.2 0a2.1 2.1 0 1 0 -4.2 0ZM713.01 233.76a2.1 2.1 0 1 0 4.2 0a2.1 2.1 0 1 0 -4.2 0ZM716.45 227.81a2.1 2.1 0 1 0 4.2 0a2.1 2.1 0 1 0 -4.2 0ZM719.90 224.49a2.1 2.1 0 1 0 4.2 0a2.1 2.1 0 1 0 -4.2 0ZM723.34 222.57a2.1 2.1 0 1 0 4.2 0a2.1 2.1 0 1 0 -4.2 0ZM726.79 221.24a2.1 2.1 0 1 0 4.2 0a2.1 2.1 0 1 0 -4.2 0ZM730.24 220.21a2.1 2.1 0 1 0 4.2 0a2.1 2.1 0 1 0 -4.2 0ZM733.68 219.88a2.1 2.1 0 1 0 4.2 0a2.1 2.1 0 1 0 -4.2 0ZM737.13 219.55a2.1 2.1 0 1 0 4.2 0a2.1 2.1 0 1 0 -4.2 0Z" fill="none" stroke="#c68b69" stroke-width="0.8"/>
</g></g>
<rect x="70.8" y="22.2" width="689.1" height="424.9" fill="none" stroke="#262626" stroke-width="1.45"/>
<path d="M70.8 75.31h5.0M759.9 75.31h-5.0M70.8 128.42h5.0M759.9 128.42h-5.0M70.8 181.54h5.0M759.9 181.54h-5.0M70.8 234.65h5.0M759.9 234.65h-5.0M70.8 287.76h5.0M759.9 287.76h-5.0M70.8 340.88h5.0M759.9 340.88h-5.0M70.8 393.99h5.0M759.9 393.99h-5.0M243.07 447.1v-4.4M243.07 22.2v4.4M415.35 447.1v-4.4M415.35 22.2v4.4M587.62 447.1v-4.4M587.62 22.2v4.4" fill="none" stroke="#262626" stroke-width="1.2"/>
<text transform="translate(61.8 31.9) scale(1.06 1)" font-size="18.2" text-anchor="end">40</text>
<text transform="translate(61.8 84.8) scale(1.06 1)" font-size="18.2" text-anchor="end">30</text>
<text transform="translate(61.8 137.7) scale(1.06 1)" font-size="18.2" text-anchor="end">20</text>
<text transform="translate(61.8 190.7) scale(1.06 1)" font-size="18.2" text-anchor="end">10</text>
<text transform="translate(61.8 243.6) scale(1.06 1)" font-size="18.2" text-anchor="end">0</text>
<text transform="translate(61.8 296.6) scale(1.06 1)" font-size="18.2" text-anchor="end">-10</text>
<text transform="translate(61.8 349.5) scale(1.06 1)" font-size="18.2" text-anchor="end">-20</text>
<text transform="translate(61.8 402.5) scale(1.06 1)" font-size="18.2" text-anchor="end">-30</text>
<text transform="translate(61.8 455.4) scale(1.06 1)" font-size="18.2" text-anchor="end">-40</text>
<text transform="translate(76.5 472.7) scale(1.09 1)" font-size="18.2" text-anchor="middle">0</text>
<text transform="translate(239.7 472.7) scale(1.09 1)" font-size="18.2" text-anchor="middle">50</text>
<text transform="translate(413.6 472.7) scale(1.09 1)" font-size="18.2" text-anchor="middle">100</text>
<text transform="translate(588.0 472.7) scale(1.09 1)" font-size="18.2" text-anchor="middle">150</text>
<text transform="translate(757.6 472.7) scale(1.09 1)" font-size="18.2" text-anchor="middle">200</text>
<text x="425" y="499.3" font-size="21.8" text-anchor="middle">TIME (sec)</text>
<text transform="translate(36.3 235.4) rotate(-90)" font-size="21" text-anchor="middle">ANGLE(deg)</text>
<text x="608.8" y="39.0" font-size="16.6" textLength="90.2" lengthAdjust="spacingAndGlyphs">Locomotion</text>
<g filter="url(#bl)"><path d="M715.7 33.65H745.8" stroke="#f03232" stroke-width="0.95" fill="none"/>
<path d="M726.90 33.65H731.10M729 31.55V35.75" fill="none" stroke="#f03232" stroke-width="1.0"/></g>
<text transform="translate(669.0 52.1) scale(0.82 1)" x="0 13.2" y="0" font-size="16.6">To</text>
<text transform="translate(690.9 52.1) scale(0.72 1)" x="0" y="0" font-size="16.6">F</text>
<g filter="url(#bl)"><path d="M715.7 46.91H745.8" stroke="#34ee34" stroke-width="0.95" fill="none"/>
<path d="M726.90 44.81L731.10 49.01M726.90 49.01L731.10 44.81" fill="none" stroke="#34ee34" stroke-width="0.8"/></g>
<text x="636.2" y="65.6" font-size="16.6" textLength="62.8" lengthAdjust="spacingAndGlyphs">Beacons</text>
<g filter="url(#bl)"><path d="M715.7 60.17H745.8" stroke="#2c2ccc" stroke-width="0.95" fill="none"/>
<path d="M726.90 60.17H731.10M729 58.07V62.27M726.90 58.07L731.10 62.27M726.90 62.27L731.10 58.07" fill="none" stroke="#2c2ccc" stroke-width="0.9"/></g>
<text x="667.4" y="78.8" font-size="16.6" textLength="31.6" lengthAdjust="spacingAndGlyphs">IMU</text>
<g filter="url(#bl)"><path d="M715.7 73.43H745.8" stroke="#f045d8" stroke-width="0.95" fill="none"/>
<path d="M726.90 71.33H731.10V75.53H726.90Z" fill="none" stroke="#f045d8" stroke-width="0.85"/></g>
<text x="653.8" y="92.1" font-size="16.6" textLength="45.2" lengthAdjust="spacingAndGlyphs">Vision</text>
<g filter="url(#bl)"><path d="M715.7 86.69H745.8" stroke="#22e6e6" stroke-width="0.95" fill="none"/>
<path d="M727.20 84.89H730.80V88.49H727.20Z" fill="#22e6e6" stroke="none"/></g>
<text x="615.0" y="105.3" font-size="16.6" textLength="84.0" lengthAdjust="spacingAndGlyphs">Integration</text>
<g filter="url(#bl)"><path d="M715.7 99.95H745.8" stroke="#c68b69" stroke-width="0.95" fill="none"/>
<path d="M726.90 99.95a2.1 2.1 0 1 0 4.2 0a2.1 2.1 0 1 0 -4.2 0Z" fill="none" stroke="#c68b69" stroke-width="0.8"/></g>
</svg>
</body></html>
